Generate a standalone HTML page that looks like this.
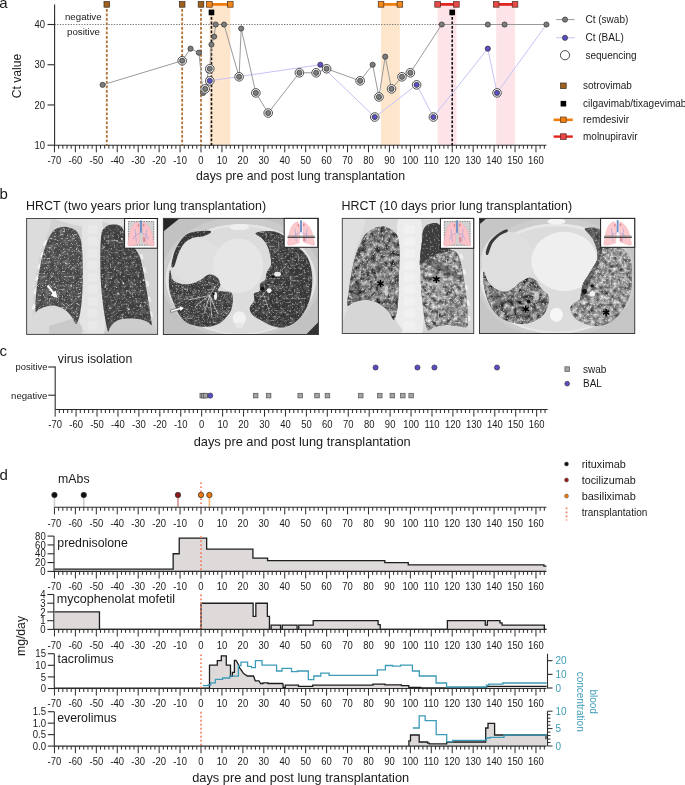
<!DOCTYPE html>
<html><head><meta charset="utf-8"><style>
html,body{margin:0;padding:0;background:#fff;}
svg{display:block;will-change:transform;font-family:"Liberation Sans", sans-serif;}
</style></head><body>
<svg width="685" height="785" viewBox="0 0 685 785">
<rect width="685" height="785" fill="#fff"/>
<text x="-0.8" y="7.9" font-size="15" text-anchor="start" fill="#1a1a1a" >a</text>
<rect x="209.37" y="4.4" width="20.94" height="140.8" fill="#fee6cd"/>
<rect x="381.04" y="4.4" width="18.84" height="140.8" fill="#fee6cd"/>
<rect x="437.57" y="4.4" width="18.84" height="140.8" fill="#fde4e8"/>
<rect x="496.18" y="4.4" width="18.84" height="140.8" fill="#fde4e8"/>
<line x1="54.45" y1="24.51" x2="546.43" y2="24.51" stroke="#777" stroke-width="1" stroke-dasharray="1.3 1.4"/>
<text x="83.3" y="19.8" font-size="9.7" text-anchor="middle" fill="#1a1a1a" >negative</text>
<text x="83.5" y="35.3" font-size="9.7" text-anchor="middle" fill="#1a1a1a" >positive</text>
<line x1="54.6" y1="4.4" x2="54.6" y2="145.7" stroke="#2b2b2b" stroke-width="1.1" />
<line x1="47.5" y1="145.2" x2="54.6" y2="145.2" stroke="#2b2b2b" stroke-width="1.1" />
<text transform="translate(45,148.8) scale(0.92,1)" font-size="10.3" text-anchor="end" fill="#1a1a1a">10</text>
<line x1="47.5" y1="104.97" x2="54.6" y2="104.97" stroke="#2b2b2b" stroke-width="1.1" />
<text transform="translate(45,108.57) scale(0.92,1)" font-size="10.3" text-anchor="end" fill="#1a1a1a">20</text>
<line x1="47.5" y1="64.74" x2="54.6" y2="64.74" stroke="#2b2b2b" stroke-width="1.1" />
<text transform="translate(45,68.34) scale(0.92,1)" font-size="10.3" text-anchor="end" fill="#1a1a1a">30</text>
<line x1="47.5" y1="24.51" x2="54.6" y2="24.51" stroke="#2b2b2b" stroke-width="1.1" />
<text transform="translate(45,28.11) scale(0.92,1)" font-size="10.3" text-anchor="end" fill="#1a1a1a">40</text>
<text transform="translate(21.3,76) rotate(-90)" font-size="12.2" text-anchor="middle" fill="#1a1a1a">Ct value</text>
<line x1="54.45" y1="145.2" x2="546.43" y2="145.2" stroke="#2b2b2b" stroke-width="1.1" />
<path d="M54.45 145.2v7.1M58.64 145.2v3.5M62.83 145.2v3.5M67.02 145.2v3.5M71.2 145.2v3.5M75.39 145.2v7.1M79.58 145.2v3.5M83.76 145.2v3.5M87.95 145.2v3.5M92.14 145.2v3.5M96.32 145.2v7.1M100.51 145.2v3.5M104.7 145.2v3.5M108.89 145.2v3.5M113.07 145.2v3.5M117.26 145.2v7.1M121.45 145.2v3.5M125.63 145.2v3.5M129.82 145.2v3.5M134.01 145.2v3.5M138.19 145.2v7.1M142.38 145.2v3.5M146.57 145.2v3.5M150.76 145.2v3.5M154.94 145.2v3.5M159.13 145.2v7.1M163.32 145.2v3.5M167.5 145.2v3.5M171.69 145.2v3.5M175.88 145.2v3.5M180.06 145.2v7.1M184.25 145.2v3.5M188.44 145.2v3.5M192.63 145.2v3.5M196.81 145.2v3.5M201 145.2v7.1M205.19 145.2v3.5M209.37 145.2v3.5M213.56 145.2v3.5M217.75 145.2v3.5M221.94 145.2v7.1M226.12 145.2v3.5M230.31 145.2v3.5M234.5 145.2v3.5M238.68 145.2v3.5M242.87 145.2v7.1M247.06 145.2v3.5M251.24 145.2v3.5M255.43 145.2v3.5M259.62 145.2v3.5M263.81 145.2v7.1M267.99 145.2v3.5M272.18 145.2v3.5M276.37 145.2v3.5M280.55 145.2v3.5M284.74 145.2v7.1M288.93 145.2v3.5M293.11 145.2v3.5M297.3 145.2v3.5M301.49 145.2v3.5M305.68 145.2v7.1M309.86 145.2v3.5M314.05 145.2v3.5M318.24 145.2v3.5M322.42 145.2v3.5M326.61 145.2v7.1M330.8 145.2v3.5M334.98 145.2v3.5M339.17 145.2v3.5M343.36 145.2v3.5M347.55 145.2v7.1M351.73 145.2v3.5M355.92 145.2v3.5M360.11 145.2v3.5M364.29 145.2v3.5M368.48 145.2v7.1M372.67 145.2v3.5M376.85 145.2v3.5M381.04 145.2v3.5M385.23 145.2v3.5M389.42 145.2v7.1M393.6 145.2v3.5M397.79 145.2v3.5M401.98 145.2v3.5M406.16 145.2v3.5M410.35 145.2v7.1M414.54 145.2v3.5M418.72 145.2v3.5M422.91 145.2v3.5M427.1 145.2v3.5M431.29 145.2v7.1M435.47 145.2v3.5M439.66 145.2v3.5M443.85 145.2v3.5M448.03 145.2v3.5M452.22 145.2v7.1M456.41 145.2v3.5M460.59 145.2v3.5M464.78 145.2v3.5M468.97 145.2v3.5M473.16 145.2v7.1M477.34 145.2v3.5M481.53 145.2v3.5M485.72 145.2v3.5M489.9 145.2v3.5M494.09 145.2v7.1M498.28 145.2v3.5M502.46 145.2v3.5M506.65 145.2v3.5M510.84 145.2v3.5M515.03 145.2v7.1M519.21 145.2v3.5M523.4 145.2v3.5M527.59 145.2v3.5M531.77 145.2v3.5M535.96 145.2v7.1M540.15 145.2v3.5M544.33 145.2v3.5" stroke="#2b2b2b" stroke-width="1" fill="none"/>
<text transform="translate(54.45,163.6) scale(0.92,1)" font-size="10.3" text-anchor="middle" fill="#1a1a1a">-70</text>
<text transform="translate(75.39,163.6) scale(0.92,1)" font-size="10.3" text-anchor="middle" fill="#1a1a1a">-60</text>
<text transform="translate(96.32,163.6) scale(0.92,1)" font-size="10.3" text-anchor="middle" fill="#1a1a1a">-50</text>
<text transform="translate(117.26,163.6) scale(0.92,1)" font-size="10.3" text-anchor="middle" fill="#1a1a1a">-40</text>
<text transform="translate(138.19,163.6) scale(0.92,1)" font-size="10.3" text-anchor="middle" fill="#1a1a1a">-30</text>
<text transform="translate(159.13,163.6) scale(0.92,1)" font-size="10.3" text-anchor="middle" fill="#1a1a1a">-20</text>
<text transform="translate(180.06,163.6) scale(0.92,1)" font-size="10.3" text-anchor="middle" fill="#1a1a1a">-10</text>
<text transform="translate(201,163.6) scale(0.92,1)" font-size="10.3" text-anchor="middle" fill="#1a1a1a">0</text>
<text transform="translate(221.94,163.6) scale(0.92,1)" font-size="10.3" text-anchor="middle" fill="#1a1a1a">10</text>
<text transform="translate(242.87,163.6) scale(0.92,1)" font-size="10.3" text-anchor="middle" fill="#1a1a1a">20</text>
<text transform="translate(263.81,163.6) scale(0.92,1)" font-size="10.3" text-anchor="middle" fill="#1a1a1a">30</text>
<text transform="translate(284.74,163.6) scale(0.92,1)" font-size="10.3" text-anchor="middle" fill="#1a1a1a">40</text>
<text transform="translate(305.68,163.6) scale(0.92,1)" font-size="10.3" text-anchor="middle" fill="#1a1a1a">50</text>
<text transform="translate(326.61,163.6) scale(0.92,1)" font-size="10.3" text-anchor="middle" fill="#1a1a1a">60</text>
<text transform="translate(347.55,163.6) scale(0.92,1)" font-size="10.3" text-anchor="middle" fill="#1a1a1a">70</text>
<text transform="translate(368.48,163.6) scale(0.92,1)" font-size="10.3" text-anchor="middle" fill="#1a1a1a">80</text>
<text transform="translate(389.42,163.6) scale(0.92,1)" font-size="10.3" text-anchor="middle" fill="#1a1a1a">90</text>
<text transform="translate(410.35,163.6) scale(0.92,1)" font-size="10.3" text-anchor="middle" fill="#1a1a1a">100</text>
<text transform="translate(431.29,163.6) scale(0.92,1)" font-size="10.3" text-anchor="middle" fill="#1a1a1a">110</text>
<text transform="translate(452.22,163.6) scale(0.92,1)" font-size="10.3" text-anchor="middle" fill="#1a1a1a">120</text>
<text transform="translate(473.16,163.6) scale(0.92,1)" font-size="10.3" text-anchor="middle" fill="#1a1a1a">130</text>
<text transform="translate(494.09,163.6) scale(0.92,1)" font-size="10.3" text-anchor="middle" fill="#1a1a1a">140</text>
<text transform="translate(515.03,163.6) scale(0.92,1)" font-size="10.3" text-anchor="middle" fill="#1a1a1a">150</text>
<text transform="translate(535.96,163.6) scale(0.92,1)" font-size="10.3" text-anchor="middle" fill="#1a1a1a">160</text>
<text x="300.5" y="179.9" font-size="12.33" text-anchor="middle" fill="#1a1a1a" >days pre and post lung transplantation</text>
<line x1="106.79" y1="4.4" x2="106.79" y2="145.2" stroke="#b07236" stroke-width="1.8" stroke-dasharray="2.9 1.6"/>
<line x1="182.16" y1="4.4" x2="182.16" y2="145.2" stroke="#b07236" stroke-width="1.8" stroke-dasharray="2.9 1.6"/>
<line x1="201" y1="4.4" x2="201" y2="145.2" stroke="#b07236" stroke-width="1.8" stroke-dasharray="2.9 1.6"/>
<line x1="211.47" y1="12.4" x2="211.47" y2="145.2" stroke="#111" stroke-width="1.6" stroke-dasharray="2.8 1.7"/>
<line x1="452.22" y1="12.4" x2="452.22" y2="145.2" stroke="#111" stroke-width="1.6" stroke-dasharray="2.8 1.7"/>
<line x1="209.37" y1="4.4" x2="230.31" y2="4.4" stroke="#f07d10" stroke-width="2.8" />
<rect x="206.57" y="1.6" width="5.6" height="5.6" fill="#f5861a" stroke="#4a3020" stroke-width="0.7"/>
<rect x="227.51" y="1.6" width="5.6" height="5.6" fill="#f5861a" stroke="#4a3020" stroke-width="0.7"/>
<line x1="381.04" y1="4.4" x2="399.88" y2="4.4" stroke="#f07d10" stroke-width="2.8" />
<rect x="378.24" y="1.6" width="5.6" height="5.6" fill="#f5861a" stroke="#4a3020" stroke-width="0.7"/>
<rect x="397.08" y="1.6" width="5.6" height="5.6" fill="#f5861a" stroke="#4a3020" stroke-width="0.7"/>
<line x1="437.57" y1="4.4" x2="456.41" y2="4.4" stroke="#e0261e" stroke-width="2.8" />
<rect x="434.77" y="1.6" width="5.6" height="5.6" fill="#e84848" stroke="#4a3020" stroke-width="0.7"/>
<rect x="453.61" y="1.6" width="5.6" height="5.6" fill="#e84848" stroke="#4a3020" stroke-width="0.7"/>
<line x1="496.18" y1="4.4" x2="515.03" y2="4.4" stroke="#e0261e" stroke-width="2.8" />
<rect x="493.38" y="1.6" width="5.6" height="5.6" fill="#e84848" stroke="#4a3020" stroke-width="0.7"/>
<rect x="512.23" y="1.6" width="5.6" height="5.6" fill="#e84848" stroke="#4a3020" stroke-width="0.7"/>
<rect x="103.99" y="1.6" width="5.6" height="5.6" fill="#a0611f" stroke="#3a2a1a" stroke-width="0.7"/>
<rect x="179.36" y="1.6" width="5.6" height="5.6" fill="#a0611f" stroke="#3a2a1a" stroke-width="0.7"/>
<rect x="198.2" y="1.6" width="5.6" height="5.6" fill="#a0611f" stroke="#3a2a1a" stroke-width="0.7"/>
<rect x="208.67" y="9.6" width="5.6" height="5.6" fill="#000"/>
<rect x="449.42" y="9.6" width="5.6" height="5.6" fill="#000"/>
<polyline points="209.79,80.83 320.33,64.74 374.76,117.04 416.63,84.85 433.38,117.04 487.81,48.65 497.02,92.9 546.43,24.51" fill="none" stroke="#c6c2f6" stroke-width="1"/>
<polyline points="102.61,84.85 182.16,60.72 190.53,48.65 198.91,52.67 203.09,92.9 205.19,88.88 208.54,70.37 209.79,68.76 211.47,44.62 214.19,36.58 215.65,24.51 224.03,24.51 239.1,76.81 241.2,28.53 255.85,92.9 268.2,113.02 299.39,72.79 316.14,72.79 326.61,68.76 360.11,80.83 372.67,64.74 378.95,96.92 385.23,56.69 391.51,88.88 401.98,76.81 410.35,72.79 441.75,24.51 487.81,24.51 504.56,24.51 546.43,24.51" fill="none" stroke="#9a9a9a" stroke-width="1"/>
<circle cx="102.61" cy="84.85" r="2.6" fill="#7c7c7c" stroke="#333" stroke-width="0.7"/>
<circle cx="182.16" cy="60.72" r="4.3" fill="#fff" stroke="#3a3a3a" stroke-width="0.9"/>
<circle cx="182.16" cy="60.72" r="2.6" fill="#7c7c7c" stroke="#333" stroke-width="0.7"/>
<circle cx="190.53" cy="48.65" r="2.6" fill="#7c7c7c" stroke="#333" stroke-width="0.7"/>
<circle cx="198.91" cy="52.67" r="2.6" fill="#7c7c7c" stroke="#333" stroke-width="0.7"/>
<circle cx="203.09" cy="92.9" r="2.6" fill="#7c7c7c" stroke="#333" stroke-width="0.7"/>
<circle cx="205.19" cy="88.88" r="4.3" fill="#fff" stroke="#3a3a3a" stroke-width="0.9"/>
<circle cx="205.19" cy="88.88" r="2.6" fill="#7c7c7c" stroke="#333" stroke-width="0.7"/>
<circle cx="208.54" cy="70.37" r="2.6" fill="#7c7c7c" stroke="#333" stroke-width="0.7"/>
<circle cx="209.79" cy="68.76" r="4.3" fill="#fff" stroke="#3a3a3a" stroke-width="0.9"/>
<circle cx="209.79" cy="68.76" r="2.6" fill="#7c7c7c" stroke="#333" stroke-width="0.7"/>
<circle cx="211.47" cy="44.62" r="2.6" fill="#7c7c7c" stroke="#333" stroke-width="0.7"/>
<circle cx="214.19" cy="36.58" r="2.6" fill="#7c7c7c" stroke="#333" stroke-width="0.7"/>
<circle cx="215.65" cy="24.51" r="2.6" fill="#7c7c7c" stroke="#333" stroke-width="0.7"/>
<circle cx="224.03" cy="24.51" r="2.6" fill="#7c7c7c" stroke="#333" stroke-width="0.7"/>
<circle cx="239.1" cy="76.81" r="4.3" fill="#fff" stroke="#3a3a3a" stroke-width="0.9"/>
<circle cx="239.1" cy="76.81" r="2.6" fill="#7c7c7c" stroke="#333" stroke-width="0.7"/>
<circle cx="241.2" cy="28.53" r="2.6" fill="#7c7c7c" stroke="#333" stroke-width="0.7"/>
<circle cx="255.85" cy="92.9" r="4.3" fill="#fff" stroke="#3a3a3a" stroke-width="0.9"/>
<circle cx="255.85" cy="92.9" r="2.6" fill="#7c7c7c" stroke="#333" stroke-width="0.7"/>
<circle cx="268.2" cy="113.02" r="4.3" fill="#fff" stroke="#3a3a3a" stroke-width="0.9"/>
<circle cx="268.2" cy="113.02" r="2.6" fill="#7c7c7c" stroke="#333" stroke-width="0.7"/>
<circle cx="299.39" cy="72.79" r="4.3" fill="#fff" stroke="#3a3a3a" stroke-width="0.9"/>
<circle cx="299.39" cy="72.79" r="2.6" fill="#7c7c7c" stroke="#333" stroke-width="0.7"/>
<circle cx="316.14" cy="72.79" r="4.3" fill="#fff" stroke="#3a3a3a" stroke-width="0.9"/>
<circle cx="316.14" cy="72.79" r="2.6" fill="#7c7c7c" stroke="#333" stroke-width="0.7"/>
<circle cx="326.61" cy="68.76" r="4.3" fill="#fff" stroke="#3a3a3a" stroke-width="0.9"/>
<circle cx="326.61" cy="68.76" r="2.6" fill="#7c7c7c" stroke="#333" stroke-width="0.7"/>
<circle cx="360.11" cy="80.83" r="4.3" fill="#fff" stroke="#3a3a3a" stroke-width="0.9"/>
<circle cx="360.11" cy="80.83" r="2.6" fill="#7c7c7c" stroke="#333" stroke-width="0.7"/>
<circle cx="372.67" cy="64.74" r="2.6" fill="#7c7c7c" stroke="#333" stroke-width="0.7"/>
<circle cx="378.95" cy="96.92" r="4.3" fill="#fff" stroke="#3a3a3a" stroke-width="0.9"/>
<circle cx="378.95" cy="96.92" r="2.6" fill="#7c7c7c" stroke="#333" stroke-width="0.7"/>
<circle cx="385.23" cy="56.69" r="2.6" fill="#7c7c7c" stroke="#333" stroke-width="0.7"/>
<circle cx="391.51" cy="88.88" r="4.3" fill="#fff" stroke="#3a3a3a" stroke-width="0.9"/>
<circle cx="391.51" cy="88.88" r="2.6" fill="#7c7c7c" stroke="#333" stroke-width="0.7"/>
<circle cx="401.98" cy="76.81" r="4.3" fill="#fff" stroke="#3a3a3a" stroke-width="0.9"/>
<circle cx="401.98" cy="76.81" r="2.6" fill="#7c7c7c" stroke="#333" stroke-width="0.7"/>
<circle cx="410.35" cy="72.79" r="4.3" fill="#fff" stroke="#3a3a3a" stroke-width="0.9"/>
<circle cx="410.35" cy="72.79" r="2.6" fill="#7c7c7c" stroke="#333" stroke-width="0.7"/>
<circle cx="441.75" cy="24.51" r="2.6" fill="#7c7c7c" stroke="#333" stroke-width="0.7"/>
<circle cx="487.81" cy="24.51" r="2.6" fill="#7c7c7c" stroke="#333" stroke-width="0.7"/>
<circle cx="504.56" cy="24.51" r="2.6" fill="#7c7c7c" stroke="#333" stroke-width="0.7"/>
<circle cx="546.43" cy="24.51" r="2.6" fill="#7c7c7c" stroke="#333" stroke-width="0.7"/>
<circle cx="209.79" cy="80.83" r="4.3" fill="#fff" stroke="#3a3a3a" stroke-width="0.9"/>
<circle cx="209.79" cy="80.83" r="2.6" fill="#5a4fc2" stroke="#333" stroke-width="0.7"/>
<circle cx="320.33" cy="64.74" r="2.6" fill="#5a4fc2" stroke="#333" stroke-width="0.7"/>
<circle cx="374.76" cy="117.04" r="4.3" fill="#fff" stroke="#3a3a3a" stroke-width="0.9"/>
<circle cx="374.76" cy="117.04" r="2.6" fill="#5a4fc2" stroke="#333" stroke-width="0.7"/>
<circle cx="416.63" cy="84.85" r="4.3" fill="#fff" stroke="#3a3a3a" stroke-width="0.9"/>
<circle cx="416.63" cy="84.85" r="2.6" fill="#5a4fc2" stroke="#333" stroke-width="0.7"/>
<circle cx="433.38" cy="117.04" r="4.3" fill="#fff" stroke="#3a3a3a" stroke-width="0.9"/>
<circle cx="433.38" cy="117.04" r="2.6" fill="#5a4fc2" stroke="#333" stroke-width="0.7"/>
<circle cx="487.81" cy="48.65" r="2.6" fill="#5a4fc2" stroke="#333" stroke-width="0.7"/>
<circle cx="497.02" cy="92.9" r="4.3" fill="#fff" stroke="#3a3a3a" stroke-width="0.9"/>
<circle cx="497.02" cy="92.9" r="2.6" fill="#5a4fc2" stroke="#333" stroke-width="0.7"/>
<line x1="556.2" y1="19.6" x2="574.6" y2="19.6" stroke="#9a9a9a" stroke-width="1" />
<circle cx="565" cy="19.6" r="2.6" fill="#7c7c7c" stroke="#333" stroke-width="0.7"/>
<line x1="556.2" y1="37.8" x2="574.6" y2="37.8" stroke="#c6c2f6" stroke-width="1" />
<circle cx="565" cy="37.8" r="2.6" fill="#5a4fc2" stroke="#333" stroke-width="0.7"/>
<circle cx="565" cy="55.2" r="4.6" fill="#fff" stroke="#3a3a3a" stroke-width="0.9"/>
<text x="585.5" y="23.2" font-size="10" text-anchor="start" fill="#1a1a1a" >Ct (swab)</text>
<text x="585.5" y="41.4" font-size="10" text-anchor="start" fill="#1a1a1a" >Ct (BAL)</text>
<text x="585.5" y="58.8" font-size="10" text-anchor="start" fill="#1a1a1a" >sequencing</text>
<rect x="560.6" y="83" width="5.6" height="5.6" fill="#a0611f" stroke="#3a2a1a" stroke-width="0.7"/>
<rect x="560.6" y="100.9" width="5.6" height="5.6" fill="#000"/>
<line x1="553.6" y1="119.8" x2="572.8" y2="119.8" stroke="#f07d10" stroke-width="2.6" />
<rect x="560.6" y="117" width="5.6" height="5.6" fill="#f07d10" stroke="#5a3a1a" stroke-width="0.7"/>
<line x1="553.6" y1="136.6" x2="572.8" y2="136.6" stroke="#e0261e" stroke-width="2.4" />
<rect x="560.6" y="133.8" width="5.6" height="5.6" fill="#e84848" stroke="#5a2020" stroke-width="0.7"/>
<text x="583" y="89.3" font-size="10" text-anchor="start" fill="#1a1a1a" >sotrovimab</text>
<text x="583" y="107.2" font-size="10" text-anchor="start" fill="#1a1a1a" >cilgavimab/tixagevimab</text>
<text x="583" y="123.3" font-size="10" text-anchor="start" fill="#1a1a1a" >remdesivir</text>
<text x="583" y="140.1" font-size="10" text-anchor="start" fill="#1a1a1a" >molnupiravir</text>
<text x="-0.5" y="198.6" font-size="15" text-anchor="start" fill="#1a1a1a" >b</text>
<text x="25.9" y="209.8" font-size="12.47" text-anchor="start" fill="#1a1a1a" >HRCT (two years prior lung transplantation)</text>
<text x="341.6" y="209.7" font-size="12.47" text-anchor="start" fill="#1a1a1a" >HRCT (10 days prior lung transplantation)</text>
<defs>
<filter id="spk" x="0" y="0" width="1" height="1" color-interpolation-filters="sRGB">
  <feTurbulence type="fractalNoise" baseFrequency="0.55" numOctaves="2" seed="2"/>
  <feColorMatrix type="matrix" values="0 0 0 0 1  0 0 0 0 1  0 0 0 0 1  7 0 0 0 -4.1"/>
</filter>
<filter id="spk2" x="0" y="0" width="1" height="1" color-interpolation-filters="sRGB">
  <feTurbulence type="fractalNoise" baseFrequency="0.5" numOctaves="2" seed="11"/>
  <feColorMatrix type="matrix" values="0 0 0 0 1  0 0 0 0 1  0 0 0 0 1  7 0 0 0 -4.0"/>
</filter>
<filter id="ret" x="0" y="0" width="1" height="1" color-interpolation-filters="sRGB">
  <feTurbulence type="turbulence" baseFrequency="0.22" numOctaves="2" seed="5"/>
  <feColorMatrix type="matrix" values="0 0 0 0 1  0 0 0 0 1  0 0 0 0 1  -6 0 0 0 1.0"/>
</filter>
<filter id="blot" x="0" y="0" width="1" height="1" color-interpolation-filters="sRGB">
  <feTurbulence type="fractalNoise" baseFrequency="0.21" numOctaves="3" seed="9"/>
  <feColorMatrix type="matrix" values="1.3 0 0 0 -0.17  1.3 0 0 0 -0.17  1.3 0 0 0 -0.17  0 0 0 0 1"/>
</filter>
<filter id="blot2" x="0" y="0" width="1" height="1" color-interpolation-filters="sRGB">
  <feTurbulence type="fractalNoise" baseFrequency="0.22" numOctaves="3" seed="21"/>
  <feColorMatrix type="matrix" values="1.3 0 0 0 -0.08  1.3 0 0 0 -0.08  1.3 0 0 0 -0.08  0 0 0 0 1"/>
</filter>
<filter id="mot" x="0" y="0" width="1" height="1" color-interpolation-filters="sRGB">
  <feTurbulence type="fractalNoise" baseFrequency="0.2" numOctaves="2" seed="13"/>
  <feColorMatrix type="matrix" values="0 0 0 0 0.55  0 0 0 0 0.55  0 0 0 0 0.55  3 0 0 0 -1.3"/>
</filter>
<filter id="drk" x="0" y="0" width="1" height="1" color-interpolation-filters="sRGB">
  <feTurbulence type="fractalNoise" baseFrequency="0.3" numOctaves="2" seed="4"/>
  <feColorMatrix type="matrix" values="0 0 0 0 0  0 0 0 0 0  0 0 0 0 0  -4 0 0 0 1.75"/>
</filter>
</defs><clipPath id="c1"><rect x="26.6" y="218.5" width="131" height="115.9"/></clipPath><g clip-path="url(#c1)"><rect x="26.6" y="218.5" width="131" height="115.9" fill="#d3d3d3"/><path d="M26,218 C30.17,198.73 48.8,211.58 51.05,218 C53.3,224.42 42.38,243.69 39.49,256.54 C36.6,269.38 34.99,282.23 33.71,295.07 C32.42,307.92 33.06,327.18 31.78,333.61 C30.5,340.03 26.96,352.87 26,333.61 C25.04,314.34 21.83,237.27 26,218Z" fill="#dcdcdc"/><ellipse cx="45.27" cy="243.05" rx="1.5" ry="3.3" fill="#f2f2f2" transform="rotate(25 45.27 243.05)"/><ellipse cx="42.38" cy="254.61" rx="1.5" ry="3.3" fill="#f2f2f2" transform="rotate(25 42.38 254.61)"/><ellipse cx="39.49" cy="266.17" rx="1.5" ry="3.3" fill="#f2f2f2" transform="rotate(25 39.49 266.17)"/><ellipse cx="37.56" cy="277.73" rx="1.5" ry="3.3" fill="#f2f2f2" transform="rotate(25 37.56 277.73)"/><ellipse cx="35.63" cy="291.22" rx="1.5" ry="3.3" fill="#f2f2f2" transform="rotate(25 35.63 291.22)"/><ellipse cx="34.09" cy="306.63" rx="1.5" ry="3.3" fill="#f2f2f2" transform="rotate(25 34.09 306.63)"/><ellipse cx="33.71" cy="322.05" rx="1.5" ry="3.3" fill="#f2f2f2" transform="rotate(25 33.71 322.05)"/><path d="M83.8,218 C86.95,211.58 98,211.58 101.14,218 C104.29,224.42 102.2,237.27 102.69,256.54 C103.17,275.8 107.66,320.76 104.03,333.61 C100.41,346.45 84.54,346.45 80.91,333.61 C77.28,320.76 81.78,275.8 82.26,256.54 C82.74,237.27 80.66,224.42 83.8,218Z" fill="#e4e4e4"/><rect x="87.47" y="225.06" width="10" height="9" rx="2.5" fill="#e9e9e9"/><rect x="87.47" y="237.01" width="10" height="9" rx="2.5" fill="#e9e9e9"/><rect x="87.47" y="248.95" width="10" height="9" rx="2.5" fill="#e9e9e9"/><rect x="87.47" y="260.9" width="10" height="9" rx="2.5" fill="#e9e9e9"/><rect x="87.47" y="272.84" width="10" height="9" rx="2.5" fill="#e9e9e9"/><rect x="87.47" y="284.79" width="10" height="9" rx="2.5" fill="#e9e9e9"/><rect x="87.47" y="296.74" width="10" height="9" rx="2.5" fill="#e9e9e9"/><rect x="87.47" y="308.68" width="10" height="9" rx="2.5" fill="#e9e9e9"/><rect x="87.47" y="320.63" width="10" height="9" rx="2.5" fill="#e9e9e9"/><path d="M54.9,218 C57.15,217.04 78.99,216.72 83.8,218 C88.62,219.28 86.05,224.74 83.8,225.71 C81.56,226.67 75.13,225.06 70.32,223.78 C65.5,222.5 52.65,218.96 54.9,218Z" fill="#e2e2e2"/><path d="M101.14,218 C105.32,217.04 129.73,216.72 133.9,218 C138.07,219.28 130.37,224.74 126.19,225.71 C122.02,226.67 113.03,225.06 108.85,223.78 C104.68,222.5 96.97,218.96 101.14,218Z" fill="#e2e2e2"/><ellipse cx="141.61" cy="256.54" rx="1.4" ry="3.1" fill="#ececec" transform="rotate(-20 141.61 256.54)"/><ellipse cx="144.5" cy="270.02" rx="1.4" ry="3.1" fill="#ececec" transform="rotate(-20 144.5 270.02)"/><ellipse cx="147.39" cy="283.51" rx="1.4" ry="3.1" fill="#ececec" transform="rotate(-20 147.39 283.51)"/><ellipse cx="149.31" cy="298.92" rx="1.4" ry="3.1" fill="#ececec" transform="rotate(-20 149.31 298.92)"/><ellipse cx="151.24" cy="314.34" rx="1.4" ry="3.1" fill="#ececec" transform="rotate(-20 151.24 314.34)"/><path d="M29.85,333.61 C21.5,331.04 29.85,322.37 31.78,318.19 C33.71,314.02 36.92,310.65 41.41,308.56 C45.91,306.47 53.62,304.71 58.76,305.67 C63.89,306.63 68.71,310.97 72.24,314.34 C75.78,317.71 78.34,322.69 79.95,325.9 C81.56,329.11 90.23,332.32 81.88,333.61 C73.53,334.89 38.2,336.18 29.85,333.61Z" fill="#dadada"/><polygon points="49.12,333.61 49.12,325.9 74.17,318.19 81.88,325.9 81.88,333.61" fill="#c9c9c9"/><path d="M106.92,335.53 C99.22,333.93 108.21,328.63 110.78,325.9 C113.35,323.17 117.2,320.28 122.34,319.16 C127.48,318.03 136.47,318.03 141.61,319.16 C146.75,320.28 150.6,323.17 153.17,325.9 C155.74,328.63 164.73,333.93 157.02,335.53 C149.31,337.14 114.63,337.14 106.92,335.53Z" fill="#cdcdcd"/><clipPath id="lc1"><path d="M64.54,226.67 C67.75,226.67 71.76,228.12 74.17,229.56 C76.58,231.01 77.7,232.45 78.99,235.34 C80.27,238.23 81.23,240.16 81.88,246.9 C82.52,253.65 82.84,267.13 82.84,275.8 C82.84,284.47 82.36,292.5 81.88,298.92 C81.39,305.35 80.75,310.32 79.95,314.34 C79.15,318.35 77.86,321.56 77.06,323.01 C76.26,324.45 76.1,324.13 75.13,323.01 C74.17,321.89 73.05,318.51 71.28,316.27 C69.51,314.02 67.27,311.29 64.54,309.52 C61.81,307.76 58.11,306.15 54.9,305.67 C51.69,305.19 48,305.99 45.27,306.63 C42.54,307.27 40.13,308.72 38.52,309.52 C36.92,310.32 36.05,313.86 35.63,311.45 C35.22,309.04 35.54,301.01 36.02,295.07 C36.5,289.13 37.46,282.23 38.52,275.8 C39.58,269.38 40.77,262.64 42.38,256.54 C43.98,250.43 46.07,243.69 48.16,239.19 C50.25,234.7 52.17,231.65 54.9,229.56 C57.63,227.47 61.32,226.67 64.54,226.67Z"/></clipPath><path d="M64.54,226.67 C67.75,226.67 71.76,228.12 74.17,229.56 C76.58,231.01 77.7,232.45 78.99,235.34 C80.27,238.23 81.23,240.16 81.88,246.9 C82.52,253.65 82.84,267.13 82.84,275.8 C82.84,284.47 82.36,292.5 81.88,298.92 C81.39,305.35 80.75,310.32 79.95,314.34 C79.15,318.35 77.86,321.56 77.06,323.01 C76.26,324.45 76.1,324.13 75.13,323.01 C74.17,321.89 73.05,318.51 71.28,316.27 C69.51,314.02 67.27,311.29 64.54,309.52 C61.81,307.76 58.11,306.15 54.9,305.67 C51.69,305.19 48,305.99 45.27,306.63 C42.54,307.27 40.13,308.72 38.52,309.52 C36.92,310.32 36.05,313.86 35.63,311.45 C35.22,309.04 35.54,301.01 36.02,295.07 C36.5,289.13 37.46,282.23 38.52,275.8 C39.58,269.38 40.77,262.64 42.38,256.54 C43.98,250.43 46.07,243.69 48.16,239.19 C50.25,234.7 52.17,231.65 54.9,229.56 C57.63,227.47 61.32,226.67 64.54,226.67Z" fill="#474747"/><g clip-path="url(#lc1)"><rect x="33.63" y="224.67" width="51.21" height="100.34" filter="url(#mot)" opacity="0.5"/><rect x="33.63" y="224.67" width="51.21" height="100.34" filter="url(#spk)" opacity="0.5"/><rect x="33.63" y="224.67" width="51.21" height="100.34" filter="url(#ret)" opacity="0.2"/></g><clipPath id="lc2"><path d="M110.78,224.74 C113.35,224.49 117.84,224.33 120.41,226.09 C122.98,227.86 123.94,231.87 126.19,235.34 C128.44,238.81 131.65,243.37 133.9,246.9 C136.15,250.43 138.24,253 139.68,256.54 C141.13,260.07 141.61,263.6 142.57,268.1 C143.53,272.59 144.5,278.05 145.46,283.51 C146.42,288.97 147.45,295.07 148.35,300.85 C149.25,306.63 150.31,314.15 150.86,318.19 C151.4,322.24 152.14,324.49 151.63,325.13 C151.11,325.77 149.7,323.01 147.77,322.05 C145.85,321.08 143.02,319.93 140.07,319.35 C137.11,318.77 133.39,318.55 130.05,318.58 C126.71,318.61 122.76,318.8 120.03,319.54 C117.3,320.28 115.37,321.63 113.67,323.01 C111.97,324.39 110.68,326.38 109.82,327.83 C108.95,329.27 109.01,332 108.47,331.68 C107.92,331.36 107.44,330.4 106.54,325.9 C105.64,321.4 104.03,312.41 103.07,304.71 C102.11,297 101.21,288.33 100.76,279.66 C100.31,270.99 100.25,260.39 100.37,252.68 C100.5,244.97 100.76,237.59 101.53,233.41 C102.3,229.24 103.46,229.08 105,227.63 C106.54,226.19 108.21,225 110.78,224.74Z"/></clipPath><path d="M110.78,224.74 C113.35,224.49 117.84,224.33 120.41,226.09 C122.98,227.86 123.94,231.87 126.19,235.34 C128.44,238.81 131.65,243.37 133.9,246.9 C136.15,250.43 138.24,253 139.68,256.54 C141.13,260.07 141.61,263.6 142.57,268.1 C143.53,272.59 144.5,278.05 145.46,283.51 C146.42,288.97 147.45,295.07 148.35,300.85 C149.25,306.63 150.31,314.15 150.86,318.19 C151.4,322.24 152.14,324.49 151.63,325.13 C151.11,325.77 149.7,323.01 147.77,322.05 C145.85,321.08 143.02,319.93 140.07,319.35 C137.11,318.77 133.39,318.55 130.05,318.58 C126.71,318.61 122.76,318.8 120.03,319.54 C117.3,320.28 115.37,321.63 113.67,323.01 C111.97,324.39 110.68,326.38 109.82,327.83 C108.95,329.27 109.01,332 108.47,331.68 C107.92,331.36 107.44,330.4 106.54,325.9 C105.64,321.4 104.03,312.41 103.07,304.71 C102.11,297 101.21,288.33 100.76,279.66 C100.31,270.99 100.25,260.39 100.37,252.68 C100.5,244.97 100.76,237.59 101.53,233.41 C102.3,229.24 103.46,229.08 105,227.63 C106.54,226.19 108.21,225 110.78,224.74Z" fill="#3d3d3d"/><g clip-path="url(#lc2)"><rect x="98.37" y="222.74" width="55.25" height="110.94" filter="url(#mot)" opacity="0.4"/><rect x="98.37" y="222.74" width="55.25" height="110.94" filter="url(#spk2)" opacity="0.32"/><rect x="98.37" y="222.74" width="55.25" height="110.94" filter="url(#ret)" opacity="0.15"/></g><circle cx="116.97" cy="240.88" r="0.83" fill="#d8d8d8" opacity="0.95"/><circle cx="105.2" cy="287.06" r="0.95" fill="#d8d8d8" opacity="0.71"/><circle cx="122.6" cy="232.21" r="0.55" fill="#ececec" opacity="0.72"/><circle cx="132.69" cy="287.09" r="0.53" fill="#bdbdbd" opacity="0.82"/><circle cx="107.77" cy="237.34" r="0.65" fill="#bdbdbd" opacity="0.75"/><circle cx="130.18" cy="293.07" r="0.69" fill="#bdbdbd" opacity="0.91"/><circle cx="129.3" cy="290.94" r="0.75" fill="#bdbdbd" opacity="0.83"/><circle cx="116.47" cy="287.36" r="0.73" fill="#ececec" opacity="0.77"/><circle cx="109.59" cy="308.14" r="0.54" fill="#ececec" opacity="0.86"/><circle cx="145.23" cy="302.75" r="0.64" fill="#d8d8d8" opacity="0.74"/><circle cx="121.8" cy="305.71" r="0.58" fill="#ececec" opacity="0.83"/><circle cx="128.98" cy="309.13" r="0.91" fill="#ececec" opacity="0.91"/><circle cx="130.84" cy="286.76" r="0.73" fill="#d8d8d8" opacity="0.98"/><circle cx="124.67" cy="295.77" r="0.53" fill="#bdbdbd" opacity="0.79"/><circle cx="129.99" cy="297.59" r="0.72" fill="#bdbdbd" opacity="0.82"/><circle cx="124.04" cy="242.71" r="0.56" fill="#d8d8d8" opacity="0.77"/><circle cx="115.11" cy="303.7" r="0.7" fill="#ececec" opacity="0.72"/><circle cx="123.4" cy="283.5" r="0.94" fill="#ececec" opacity="0.96"/><circle cx="114.64" cy="269.15" r="0.68" fill="#ececec" opacity="0.99"/><circle cx="108.11" cy="243.59" r="0.62" fill="#d8d8d8" opacity="0.7"/><circle cx="114.82" cy="240.32" r="0.77" fill="#bdbdbd" opacity="0.87"/><circle cx="126.79" cy="290.79" r="0.84" fill="#d8d8d8" opacity="0.84"/><circle cx="135.25" cy="284.55" r="0.7" fill="#ececec" opacity="0.73"/><circle cx="103.83" cy="247.07" r="0.58" fill="#ececec" opacity="0.88"/><circle cx="105.62" cy="285.35" r="0.77" fill="#ececec" opacity="0.88"/><circle cx="103.98" cy="246.98" r="0.69" fill="#bdbdbd" opacity="0.78"/><circle cx="118.18" cy="263.69" r="0.56" fill="#ececec" opacity="1"/><circle cx="124.26" cy="276.48" r="0.54" fill="#d8d8d8" opacity="0.92"/><circle cx="138.32" cy="275.93" r="0.85" fill="#bdbdbd" opacity="0.71"/><circle cx="107.89" cy="282.83" r="0.51" fill="#bdbdbd" opacity="0.79"/><circle cx="143.71" cy="280.18" r="0.95" fill="#ececec" opacity="0.93"/><circle cx="127.67" cy="308.05" r="0.66" fill="#d8d8d8" opacity="0.88"/><circle cx="140.78" cy="305.84" r="0.6" fill="#d8d8d8" opacity="0.95"/><circle cx="126.9" cy="262.77" r="0.51" fill="#d8d8d8" opacity="0.94"/><circle cx="124.58" cy="245.45" r="0.8" fill="#ececec" opacity="0.83"/><circle cx="111.67" cy="249" r="0.6" fill="#d8d8d8" opacity="0.84"/><circle cx="118" cy="293.52" r="0.92" fill="#d8d8d8" opacity="0.97"/><circle cx="140.47" cy="304.96" r="0.74" fill="#d8d8d8" opacity="0.83"/><circle cx="124.11" cy="304.24" r="0.54" fill="#d8d8d8" opacity="0.75"/><circle cx="106.88" cy="240.91" r="0.95" fill="#bdbdbd" opacity="0.74"/><circle cx="134.06" cy="262.22" r="0.77" fill="#d8d8d8" opacity="0.71"/><circle cx="141.34" cy="302.42" r="0.55" fill="#bdbdbd" opacity="0.98"/><circle cx="122.61" cy="317.96" r="0.91" fill="#d8d8d8" opacity="0.71"/><circle cx="111.28" cy="278.34" r="0.88" fill="#ececec" opacity="0.78"/><circle cx="121.85" cy="238.76" r="0.96" fill="#ececec" opacity="0.97"/><line x1="47.5" y1="285.5" x2="54.8" y2="294.5" stroke="#fff" stroke-width="2"/><polygon points="57.5,298 50.5,295.2 55.6,290.4" fill="#fff"/></g><rect x="26.6" y="218.5" width="131" height="115.9" fill="none" stroke="#4a4a4a" stroke-width="1"/><rect x="124.6" y="218.5" width="32.7" height="29.7" fill="#fff" stroke="#1e1e1e" stroke-width="1"/><rect x="128.46" y="221.47" width="25.34" height="23.76" fill="#d2d2d2" stroke="#444" stroke-width="0.6" stroke-dasharray="1.5 1"/><path d="M137.19,222.06 C138.12,221.82 138.25,222.66 138.66,223.55 C139.07,224.44 139.48,225.53 139.64,227.41 C139.81,229.29 139.72,232.46 139.64,234.83 C139.56,237.21 139.37,240.18 139.15,241.67 C138.93,243.15 140.11,243.05 138.33,243.75 C136.56,244.44 130.1,246.81 128.52,245.82 C126.94,244.83 128.52,240.38 128.85,237.81 C129.18,235.23 129.78,232.51 130.49,230.38 C131.19,228.25 131.98,226.42 133.1,225.03 C134.22,223.65 136.26,222.31 137.19,222.06Z" fill="#fbc3c8" stroke="#f0a3ab" stroke-width="0.4"/><path d="M143.08,222.06 C143.48,221.37 144.3,222.51 145.2,223.25 C146.1,223.99 147.44,225.08 148.47,226.52 C149.51,227.95 150.68,229.84 151.41,231.87 C152.15,233.89 152.48,236.37 152.89,238.7 C153.29,241.02 154.98,244.98 153.87,245.82 C152.75,246.67 147.95,244.34 146.18,243.75 C144.41,243.15 143.76,243.99 143.24,242.26 C142.72,240.53 143.16,235.82 143.08,233.35 C142.99,230.88 142.75,229.29 142.75,227.41 C142.75,225.53 142.67,222.76 143.08,222.06Z" fill="#fbc3c8" stroke="#f0a3ab" stroke-width="0.4"/><rect x="137.68" y="224.14" width="1.31" height="2.67" rx="0.6" fill="#c85a66" opacity="0.6"/><rect x="143.08" y="223.85" width="1.31" height="2.67" rx="0.6" fill="#c85a66" opacity="0.6"/><rect x="143.24" y="236.91" width="1.64" height="5.05" rx="0.6" fill="#c85a66" opacity="0.6"/><polyline points="139.97,233.35 135.72,234.83 133.1,239.29" fill="none" stroke="#a9a3dc" stroke-width="0.7"/><polyline points="135.72,234.83 135.06,228.89" fill="none" stroke="#a9a3dc" stroke-width="0.7"/><polyline points="135.72,234.83 136.37,242.26" fill="none" stroke="#a9a3dc" stroke-width="0.7"/><polyline points="141.93,233.35 146.18,234.83 148.8,239.29" fill="none" stroke="#a9a3dc" stroke-width="0.7"/><polyline points="146.18,234.83 146.84,228.89" fill="none" stroke="#a9a3dc" stroke-width="0.7"/><polyline points="146.18,234.83 145.53,242.26" fill="none" stroke="#a9a3dc" stroke-width="0.7"/><line x1="140.95" y1="220.28" x2="140.95" y2="232.76" stroke="#6f8fc6" stroke-width="1.9"/><clipPath id="c2"><rect x="163.4" y="218.4" width="155" height="116.1"/></clipPath><g clip-path="url(#c2)"><rect x="163.4" y="218.4" width="155" height="116.1" fill="#c2c2c2"/><ellipse cx="240.89" cy="277.67" rx="79.71" ry="61.03" fill="#cbcbcb"/><ellipse cx="240.89" cy="279.49" rx="75.15" ry="55.57" fill="#e6e6e6"/><ellipse cx="240.89" cy="279.94" rx="73.33" ry="53.75" fill="#dcdcdc"/><polygon points="163,218 180.08,218 163,231.66" fill="#262626"/><polygon points="320.14,320.48 320.14,336.42 304.2,336.42" fill="#333"/><ellipse cx="197.16" cy="261.27" rx="26.19" ry="22.77" fill="#e0e0e0"/><ellipse cx="238.15" cy="265.83" rx="25.05" ry="27.33" fill="#e6e6e6"/><clipPath id="lc3"><path d="M170.06,269.92 C170.86,269.73 170.89,278.43 173.7,280.86 C176.51,283.29 182.7,284.5 186.91,284.5 C191.13,284.5 195.38,282.49 198.98,280.86 C202.59,279.22 205.55,275.31 208.55,274.71 C211.55,274.1 215,275.58 216.97,277.21 C218.95,278.84 220.2,282.34 220.39,284.5 C220.58,286.66 217.32,289.02 218.11,290.19 C218.91,291.37 222.97,291.14 225.17,291.56 C227.37,291.98 230.03,291.29 231.32,292.7 C232.61,294.1 232.92,297.18 232.92,299.99 C232.92,302.79 232.19,306.97 231.32,309.55 C230.45,312.13 229.5,313.27 227.68,315.47 C225.86,317.67 223.2,320.94 220.39,322.76 C217.58,324.58 214.39,325.8 210.83,326.4 C207.26,327.01 202.97,327.01 198.98,326.4 C195,325.8 190.1,324.58 186.91,322.76 C183.72,320.94 181.83,318.28 179.85,315.47 C177.88,312.66 176.66,309.51 175.07,305.91 C173.48,302.3 171.31,297.82 170.29,293.84 C169.26,289.85 168.96,285.98 168.92,281.99 C168.88,278.01 169.26,270.11 170.06,269.92Z"/></clipPath><path d="M170.06,269.92 C170.86,269.73 170.89,278.43 173.7,280.86 C176.51,283.29 182.7,284.5 186.91,284.5 C191.13,284.5 195.38,282.49 198.98,280.86 C202.59,279.22 205.55,275.31 208.55,274.71 C211.55,274.1 215,275.58 216.97,277.21 C218.95,278.84 220.2,282.34 220.39,284.5 C220.58,286.66 217.32,289.02 218.11,290.19 C218.91,291.37 222.97,291.14 225.17,291.56 C227.37,291.98 230.03,291.29 231.32,292.7 C232.61,294.1 232.92,297.18 232.92,299.99 C232.92,302.79 232.19,306.97 231.32,309.55 C230.45,312.13 229.5,313.27 227.68,315.47 C225.86,317.67 223.2,320.94 220.39,322.76 C217.58,324.58 214.39,325.8 210.83,326.4 C207.26,327.01 202.97,327.01 198.98,326.4 C195,325.8 190.1,324.58 186.91,322.76 C183.72,320.94 181.83,318.28 179.85,315.47 C177.88,312.66 176.66,309.51 175.07,305.91 C173.48,302.3 171.31,297.82 170.29,293.84 C169.26,289.85 168.96,285.98 168.92,281.99 C168.88,278.01 169.26,270.11 170.06,269.92Z" fill="#3a3a3a"/><g clip-path="url(#lc3)"><rect x="166.92" y="267.92" width="67.99" height="60.48" filter="url(#mot)" opacity="0.45"/><rect x="166.92" y="267.92" width="67.99" height="60.48" filter="url(#spk)" opacity="0.4"/><rect x="166.92" y="267.92" width="67.99" height="60.48" filter="url(#ret)" opacity="0.3"/></g><clipPath id="lc4"><path d="M171.43,266.05 C171.27,264.19 172.53,258.2 173.48,254.89 C174.42,251.59 175.56,249.09 177.12,246.24 C178.68,243.39 180.92,239.94 182.81,237.81 C184.71,235.69 186.15,234.55 188.51,233.49 C190.86,232.42 193.4,231.89 196.93,231.44 C200.46,230.98 207.56,230.41 209.69,230.75 C211.81,231.09 210.86,232.54 209.69,233.49 C208.51,234.44 204.98,235.84 202.63,236.45 C200.27,237.05 197.46,236.79 195.57,237.13 C193.67,237.47 193.14,237.43 191.24,238.5 C189.34,239.56 186.31,241 184.18,243.51 C182.05,246.01 180.12,249.77 178.49,253.53 C176.85,257.28 175.56,263.97 174.39,266.05 C173.21,268.14 171.58,267.91 171.43,266.05Z"/></clipPath><path d="M171.43,266.05 C171.27,264.19 172.53,258.2 173.48,254.89 C174.42,251.59 175.56,249.09 177.12,246.24 C178.68,243.39 180.92,239.94 182.81,237.81 C184.71,235.69 186.15,234.55 188.51,233.49 C190.86,232.42 193.4,231.89 196.93,231.44 C200.46,230.98 207.56,230.41 209.69,230.75 C211.81,231.09 210.86,232.54 209.69,233.49 C208.51,234.44 204.98,235.84 202.63,236.45 C200.27,237.05 197.46,236.79 195.57,237.13 C193.67,237.47 193.14,237.43 191.24,238.5 C189.34,239.56 186.31,241 184.18,243.51 C182.05,246.01 180.12,249.77 178.49,253.53 C176.85,257.28 175.56,263.97 174.39,266.05 C173.21,268.14 171.58,267.91 171.43,266.05Z" fill="#383838"/><g clip-path="url(#lc4)"><rect x="169.43" y="228.75" width="42.26" height="39.3" filter="url(#spk2)" opacity="0.3"/></g><clipPath id="lc5"><path d="M255.46,233.49 C255.69,232.2 260.4,231.44 263.89,231.21 C267.38,230.98 272.69,231.06 276.41,232.12 C280.13,233.18 282.49,235.04 286.21,237.59 C289.93,240.13 295.2,244.11 298.73,247.38 C302.26,250.64 305.26,253.41 307.39,257.17 C309.51,260.93 310.69,265.48 311.49,269.92 C312.28,274.37 312.4,279.15 312.17,283.82 C311.94,288.49 311.41,293.27 310.12,297.94 C308.83,302.6 306.78,307.88 304.43,311.83 C302.07,315.78 299.26,319.04 296,321.62 C292.74,324.2 288.79,326.59 284.84,327.31 C280.89,328.04 276.3,327.12 272.31,325.95 C268.33,324.77 264.23,322.11 260.93,320.25 C257.63,318.39 254.36,316.88 252.5,314.79 C250.64,312.7 249.5,310.08 249.77,307.73 C250.03,305.38 253.37,303.02 254.1,300.67 C254.82,298.32 253.18,295.24 254.1,293.61 C255.01,291.98 258.54,292.51 259.56,290.88 C260.59,289.24 259.3,285.68 260.24,283.82 C261.19,281.96 264.19,281.58 265.25,279.72 C266.32,277.86 265.71,275.01 266.62,272.66 C267.53,270.3 270.04,267.95 270.72,265.6 C271.4,263.24 271.18,261.57 270.72,258.54 C270.26,255.5 269.35,250.64 267.99,247.38 C266.62,244.11 264.61,241.27 262.52,238.95 C260.43,236.64 255.23,234.78 255.46,233.49Z"/></clipPath><path d="M255.46,233.49 C255.69,232.2 260.4,231.44 263.89,231.21 C267.38,230.98 272.69,231.06 276.41,232.12 C280.13,233.18 282.49,235.04 286.21,237.59 C289.93,240.13 295.2,244.11 298.73,247.38 C302.26,250.64 305.26,253.41 307.39,257.17 C309.51,260.93 310.69,265.48 311.49,269.92 C312.28,274.37 312.4,279.15 312.17,283.82 C311.94,288.49 311.41,293.27 310.12,297.94 C308.83,302.6 306.78,307.88 304.43,311.83 C302.07,315.78 299.26,319.04 296,321.62 C292.74,324.2 288.79,326.59 284.84,327.31 C280.89,328.04 276.3,327.12 272.31,325.95 C268.33,324.77 264.23,322.11 260.93,320.25 C257.63,318.39 254.36,316.88 252.5,314.79 C250.64,312.7 249.5,310.08 249.77,307.73 C250.03,305.38 253.37,303.02 254.1,300.67 C254.82,298.32 253.18,295.24 254.1,293.61 C255.01,291.98 258.54,292.51 259.56,290.88 C260.59,289.24 259.3,285.68 260.24,283.82 C261.19,281.96 264.19,281.58 265.25,279.72 C266.32,277.86 265.71,275.01 266.62,272.66 C267.53,270.3 270.04,267.95 270.72,265.6 C271.4,263.24 271.18,261.57 270.72,258.54 C270.26,255.5 269.35,250.64 267.99,247.38 C266.62,244.11 264.61,241.27 262.52,238.95 C260.43,236.64 255.23,234.78 255.46,233.49Z" fill="#363636"/><g clip-path="url(#lc5)"><rect x="247.77" y="229.21" width="66.4" height="100.11" filter="url(#mot)" opacity="0.4"/><rect x="247.77" y="229.21" width="66.4" height="100.11" filter="url(#spk2)" opacity="0.38"/><rect x="247.77" y="229.21" width="66.4" height="100.11" filter="url(#ret)" opacity="0.22"/></g><line x1="215.38" y1="286.32" x2="209.69" y2="295.43" stroke="#e6e6e6" stroke-width="0.8" opacity="0.8"/><line x1="209.69" y1="295.43" x2="203.99" y2="313.65" stroke="#e6e6e6" stroke-width="0.8" opacity="0.8"/><line x1="209.69" y1="295.43" x2="211.96" y2="318.2" stroke="#e6e6e6" stroke-width="0.8" opacity="0.8"/><line x1="209.69" y1="295.43" x2="217.66" y2="313.65" stroke="#e6e6e6" stroke-width="0.8" opacity="0.8"/><line x1="209.69" y1="295.43" x2="197.16" y2="304.54" stroke="#e6e6e6" stroke-width="0.8" opacity="0.8"/><line x1="209.69" y1="295.43" x2="188.05" y2="299.99" stroke="#e6e6e6" stroke-width="0.8" opacity="0.8"/><line x1="276.87" y1="274.93" x2="285.98" y2="265.83" stroke="#dcdcdc" stroke-width="0.7" opacity="0.7"/><line x1="263.2" y1="293.15" x2="270.04" y2="313.65" stroke="#dcdcdc" stroke-width="0.7" opacity="0.7"/><line x1="270.04" y1="286.32" x2="258.65" y2="299.99" stroke="#dcdcdc" stroke-width="0.7" opacity="0.7"/><circle cx="262.4" cy="288.7" r="1.9" fill="#111"/><circle cx="269.2" cy="290.6" r="2.4" fill="#f0f0f0"/><ellipse cx="277.5" cy="274.2" rx="3.4" ry="2.4" fill="#e8e8e8"/><circle cx="273" cy="276.8" r="1.4" fill="#111"/><ellipse cx="215.5" cy="296" rx="1.6" ry="4" fill="#eeeeee"/><circle cx="213.5" cy="294" r="1.2" fill="#111"/><ellipse cx="242.3" cy="226.5" rx="5" ry="2.4" fill="#f4f4f4"/><ellipse cx="239.29" cy="318.2" rx="6.5" ry="7" fill="#f2f2f2"/><ellipse cx="239.29" cy="325.49" rx="4" ry="3" fill="#e6e6e6"/><ellipse cx="239.29" cy="227.11" rx="10" ry="3" fill="#eeeeee"/><polygon points="170.3,310.2 179.6,307.6 179.1,305.6 184.3,307.7 180.3,311.6 180.1,309.7 170.8,312.4" fill="#fff" stroke="#333" stroke-width="0.5"/></g><rect x="163.4" y="218.4" width="155" height="116.1" fill="none" stroke="#3a3a3a" stroke-width="1"/><rect x="284.2" y="218.4" width="33.6" height="28.9" fill="#fff" stroke="#1e1e1e" stroke-width="1"/><path d="M297.14,221.87 C298.09,221.63 298.23,222.45 298.65,223.31 C299.07,224.18 299.49,225.24 299.66,227.07 C299.82,228.9 299.74,231.98 299.66,234.3 C299.57,236.61 299.38,239.5 299.15,240.94 C298.93,242.39 300.13,242.29 298.31,242.97 C296.49,243.64 289.86,245.95 288.23,244.99 C286.61,244.02 288.23,239.69 288.57,237.19 C288.9,234.68 289.52,232.03 290.25,229.96 C290.98,227.89 291.79,226.11 292.94,224.76 C294.08,223.41 296.18,222.11 297.14,221.87Z" fill="#fccacd" stroke="#f0a3ab" stroke-width="0.4"/><path d="M303.18,221.87 C303.6,221.19 304.44,222.3 305.37,223.02 C306.29,223.75 307.66,224.81 308.73,226.2 C309.79,227.6 311,229.43 311.75,231.41 C312.51,233.38 312.84,235.79 313.26,238.05 C313.68,240.32 315.42,244.17 314.27,244.99 C313.12,245.81 308.2,243.54 306.38,242.97 C304.56,242.39 303.88,243.21 303.35,241.52 C302.82,239.83 303.27,235.26 303.18,232.85 C303.1,230.44 302.85,228.9 302.85,227.07 C302.85,225.24 302.76,222.54 303.18,221.87Z" fill="#fccacd" stroke="#f0a3ab" stroke-width="0.4"/><rect x="297.64" y="223.89" width="1.34" height="2.6" rx="0.6" fill="#c85a66" opacity="0.6"/><rect x="303.18" y="223.6" width="1.34" height="2.6" rx="0.6" fill="#c85a66" opacity="0.6"/><rect x="303.35" y="236.32" width="1.68" height="4.91" rx="0.6" fill="#c85a66" opacity="0.6"/><polyline points="299.99,232.85 295.62,234.3 292.94,238.63" fill="none" stroke="#a9a3dc" stroke-width="0.7"/><polyline points="295.62,234.3 294.95,228.52" fill="none" stroke="#a9a3dc" stroke-width="0.7"/><polyline points="295.62,234.3 296.3,241.52" fill="none" stroke="#a9a3dc" stroke-width="0.7"/><polyline points="302.01,232.85 306.38,234.3 309.06,238.63" fill="none" stroke="#a9a3dc" stroke-width="0.7"/><polyline points="306.38,234.3 307.05,228.52" fill="none" stroke="#a9a3dc" stroke-width="0.7"/><polyline points="306.38,234.3 305.7,241.52" fill="none" stroke="#a9a3dc" stroke-width="0.7"/><line x1="301" y1="220.13" x2="301" y2="232.27" stroke="#6f8fc6" stroke-width="1.9"/><polygon points="288.23,235.16 314.44,235.16 315.45,237.47 287.22,237.47" fill="#888" opacity="0.55"/><line x1="287.56" y1="237.32" x2="315.11" y2="237.32" stroke="#222" stroke-width="0.9"/><clipPath id="c3"><rect x="342.3" y="218.4" width="131.4" height="115.1"/></clipPath><g clip-path="url(#c3)"><rect x="342.3" y="218.4" width="131.4" height="115.1" fill="#d8d8d8"/><path d="M342,218 C345.85,198.73 363.19,211.58 365.12,218 C367.05,224.42 356.45,243.69 353.56,256.54 C350.67,269.38 349.06,282.23 347.78,295.07 C346.5,307.92 346.82,327.18 345.85,333.61 C344.89,340.03 342.64,352.87 342,333.61 C341.36,314.34 338.15,237.27 342,218Z" fill="#e0e0e0"/><ellipse cx="361.27" cy="243.05" rx="1.5" ry="3.3" fill="#f4f4f4" transform="rotate(25 361.27 243.05)"/><ellipse cx="358.38" cy="254.61" rx="1.5" ry="3.3" fill="#f4f4f4" transform="rotate(25 358.38 254.61)"/><ellipse cx="355.49" cy="266.17" rx="1.5" ry="3.3" fill="#f4f4f4" transform="rotate(25 355.49 266.17)"/><ellipse cx="353.56" cy="277.73" rx="1.5" ry="3.3" fill="#f4f4f4" transform="rotate(25 353.56 277.73)"/><ellipse cx="351.63" cy="291.22" rx="1.5" ry="3.3" fill="#f4f4f4" transform="rotate(25 351.63 291.22)"/><ellipse cx="350.09" cy="306.63" rx="1.5" ry="3.3" fill="#f4f4f4" transform="rotate(25 350.09 306.63)"/><ellipse cx="349.71" cy="322.05" rx="1.5" ry="3.3" fill="#f4f4f4" transform="rotate(25 349.71 322.05)"/><path d="M398.84,218 C402.53,211.58 416.34,211.58 420.03,218 C423.73,224.42 420.68,237.27 421,256.54 C421.32,275.8 425.98,320.76 421.96,333.61 C417.95,346.45 400.93,346.45 396.91,333.61 C392.9,320.76 397.56,275.8 397.88,256.54 C398.2,237.27 395.15,224.42 398.84,218Z" fill="#ececec"/><rect x="403.94" y="225.06" width="11" height="9" rx="2.5" fill="#f1f1f1"/><rect x="403.94" y="237.01" width="11" height="9" rx="2.5" fill="#f1f1f1"/><rect x="403.94" y="248.95" width="11" height="9" rx="2.5" fill="#f1f1f1"/><rect x="403.94" y="260.9" width="11" height="9" rx="2.5" fill="#f1f1f1"/><rect x="403.94" y="272.84" width="11" height="9" rx="2.5" fill="#f1f1f1"/><rect x="403.94" y="284.79" width="11" height="9" rx="2.5" fill="#f1f1f1"/><rect x="403.94" y="296.74" width="11" height="9" rx="2.5" fill="#f1f1f1"/><rect x="403.94" y="308.68" width="11" height="9" rx="2.5" fill="#f1f1f1"/><rect x="403.94" y="320.63" width="11" height="9" rx="2.5" fill="#f1f1f1"/><ellipse cx="461.46" cy="256.54" rx="1.4" ry="3.1" fill="#f0f0f0" transform="rotate(-20 461.46 256.54)"/><ellipse cx="464.35" cy="271.95" rx="1.4" ry="3.1" fill="#f0f0f0" transform="rotate(-20 464.35 271.95)"/><ellipse cx="466.28" cy="287.36" rx="1.4" ry="3.1" fill="#f0f0f0" transform="rotate(-20 466.28 287.36)"/><ellipse cx="468.2" cy="302.78" rx="1.4" ry="3.1" fill="#f0f0f0" transform="rotate(-20 468.2 302.78)"/><ellipse cx="469.17" cy="318.19" rx="1.4" ry="3.1" fill="#f0f0f0" transform="rotate(-20 469.17 318.19)"/><path d="M345.85,333.61 C337.34,329.43 345.53,313.7 347.78,308.56 C350.03,303.42 354.85,304 359.34,302.78 C363.84,301.56 369.94,300.27 374.76,301.24 C379.57,302.2 384.55,305.09 388.24,308.56 C391.94,312.03 395.15,317.87 396.91,322.05 C398.68,326.22 407.35,331.68 398.84,333.61 C390.33,335.53 354.36,337.78 345.85,333.61Z" fill="#d6d6d6"/><path d="M424.85,333.61 C417.79,332.8 427.1,330.07 430.63,328.79 C434.16,327.51 440.27,325.9 446.05,325.9 C451.83,325.9 460.82,327.51 465.31,328.79 C469.81,330.07 479.76,332.8 473.02,333.61 C466.28,334.41 431.92,334.41 424.85,333.61Z" fill="#d2d2d2"/><clipPath id="lc6"><path d="M384.97,226.86 C387.41,227.6 391.42,229.34 393.64,231.29 C395.85,233.25 397.27,234.67 398.26,238.62 C399.26,242.57 399.51,248.57 399.61,254.99 C399.71,261.42 399.06,269.77 398.84,277.15 C398.62,284.54 398.62,293.4 398.26,299.31 C397.91,305.22 397.49,309.17 396.72,312.61 C395.95,316.04 394.86,319.93 393.64,319.93 C392.42,319.93 391.1,314.82 389.4,312.61 C387.7,310.39 385.9,308.49 383.43,306.63 C380.95,304.77 377.77,302.52 374.56,301.43 C371.35,300.34 367.63,299.92 364.16,300.08 C360.69,300.24 356.58,301.53 353.75,302.39 C350.93,303.26 348.04,307.02 347.2,305.28 C346.37,303.55 348.13,296.68 348.74,291.99 C349.35,287.3 350.03,282.1 350.86,277.15 C351.7,272.21 352.5,267.23 353.75,262.32 C355.01,257.4 356.64,252.1 358.38,247.67 C360.11,243.24 361.94,238.71 364.16,235.73 C366.37,232.74 369.2,231.23 371.67,229.75 C374.15,228.28 376.78,227.34 378.99,226.86 C381.21,226.38 382.53,226.12 384.97,226.86Z"/></clipPath><path d="M384.97,226.86 C387.41,227.6 391.42,229.34 393.64,231.29 C395.85,233.25 397.27,234.67 398.26,238.62 C399.26,242.57 399.51,248.57 399.61,254.99 C399.71,261.42 399.06,269.77 398.84,277.15 C398.62,284.54 398.62,293.4 398.26,299.31 C397.91,305.22 397.49,309.17 396.72,312.61 C395.95,316.04 394.86,319.93 393.64,319.93 C392.42,319.93 391.1,314.82 389.4,312.61 C387.7,310.39 385.9,308.49 383.43,306.63 C380.95,304.77 377.77,302.52 374.56,301.43 C371.35,300.34 367.63,299.92 364.16,300.08 C360.69,300.24 356.58,301.53 353.75,302.39 C350.93,303.26 348.04,307.02 347.2,305.28 C346.37,303.55 348.13,296.68 348.74,291.99 C349.35,287.3 350.03,282.1 350.86,277.15 C351.7,272.21 352.5,267.23 353.75,262.32 C355.01,257.4 356.64,252.1 358.38,247.67 C360.11,243.24 361.94,238.71 364.16,235.73 C366.37,232.74 369.2,231.23 371.67,229.75 C374.15,228.28 376.78,227.34 378.99,226.86 C381.21,226.38 382.53,226.12 384.97,226.86Z" fill="#5c5c5c"/><g clip-path="url(#lc6)"><rect x="345.2" y="224.86" width="56.41" height="97.06" filter="url(#blot)" opacity="0.8"/><rect x="345.2" y="224.86" width="56.41" height="97.06" filter="url(#spk)" opacity="0.5"/></g><clipPath id="lc7"><path d="M429.48,223.97 C432.21,223.23 436.67,221.4 439.88,225.32 C443.09,229.24 446.05,243.02 448.74,247.48 C451.44,251.94 454.07,249.63 456.07,252.1 C458.06,254.58 459.44,258.14 460.69,262.32 C461.94,266.49 462.75,272.21 463.58,277.15 C464.41,282.1 465.09,287.08 465.7,291.99 C466.31,296.9 466.89,301.72 467.24,306.63 C467.59,311.55 467.95,318.03 467.82,321.47 C467.69,324.9 468.43,326.51 466.47,327.25 C464.51,327.99 459.76,326.25 456.07,325.9 C452.37,325.55 447.97,324.9 444.31,325.13 C440.65,325.35 436.8,326.38 434.1,327.25 C431.4,328.12 429.64,331.29 428.13,330.33 C426.62,329.37 425.91,325.42 425.04,321.47 C424.18,317.52 423.54,311.55 422.92,306.63 C422.31,301.72 421.77,296.9 421.38,291.99 C421,287.08 420.87,282.1 420.61,277.15 C420.36,272.21 419.84,266.49 419.84,262.32 C419.84,258.14 420.23,255.8 420.61,252.1 C421,248.41 421.67,243.88 422.15,240.16 C422.64,236.43 422.28,232.45 423.5,229.75 C424.72,227.06 426.75,224.71 429.48,223.97Z"/></clipPath><path d="M429.48,223.97 C432.21,223.23 436.67,221.4 439.88,225.32 C443.09,229.24 446.05,243.02 448.74,247.48 C451.44,251.94 454.07,249.63 456.07,252.1 C458.06,254.58 459.44,258.14 460.69,262.32 C461.94,266.49 462.75,272.21 463.58,277.15 C464.41,282.1 465.09,287.08 465.7,291.99 C466.31,296.9 466.89,301.72 467.24,306.63 C467.59,311.55 467.95,318.03 467.82,321.47 C467.69,324.9 468.43,326.51 466.47,327.25 C464.51,327.99 459.76,326.25 456.07,325.9 C452.37,325.55 447.97,324.9 444.31,325.13 C440.65,325.35 436.8,326.38 434.1,327.25 C431.4,328.12 429.64,331.29 428.13,330.33 C426.62,329.37 425.91,325.42 425.04,321.47 C424.18,317.52 423.54,311.55 422.92,306.63 C422.31,301.72 421.77,296.9 421.38,291.99 C421,287.08 420.87,282.1 420.61,277.15 C420.36,272.21 419.84,266.49 419.84,262.32 C419.84,258.14 420.23,255.8 420.61,252.1 C421,248.41 421.67,243.88 422.15,240.16 C422.64,236.43 422.28,232.45 423.5,229.75 C424.72,227.06 426.75,224.71 429.48,223.97Z" fill="#7a7a7a"/><g clip-path="url(#lc7)"><rect x="417.84" y="221.97" width="51.98" height="110.36" filter="url(#blot2)" opacity="0.8"/><rect x="417.84" y="221.97" width="51.98" height="110.36" filter="url(#spk2)" opacity="0.5"/></g><clipPath id="lc8"><path d="M429.48,223.97 C432.21,223.23 436.67,221.4 439.88,225.32 C443.09,229.24 447.07,243.24 448.74,247.48 C450.41,251.72 450.99,249.89 449.9,250.76 C448.81,251.62 444.76,252.04 442.19,252.68 C439.62,253.32 437.05,253.48 434.49,254.61 C431.92,255.73 429.09,257.82 426.78,259.43 C424.47,261.03 421.77,263.76 420.61,264.24 C419.46,264.72 419.84,264.34 419.84,262.32 C419.84,260.29 420.23,255.8 420.61,252.1 C421,248.41 421.67,243.88 422.15,240.16 C422.64,236.43 422.28,232.45 423.5,229.75 C424.72,227.06 426.75,224.71 429.48,223.97Z"/></clipPath><path d="M429.48,223.97 C432.21,223.23 436.67,221.4 439.88,225.32 C443.09,229.24 447.07,243.24 448.74,247.48 C450.41,251.72 450.99,249.89 449.9,250.76 C448.81,251.62 444.76,252.04 442.19,252.68 C439.62,253.32 437.05,253.48 434.49,254.61 C431.92,255.73 429.09,257.82 426.78,259.43 C424.47,261.03 421.77,263.76 420.61,264.24 C419.46,264.72 419.84,264.34 419.84,262.32 C419.84,260.29 420.23,255.8 420.61,252.1 C421,248.41 421.67,243.88 422.15,240.16 C422.64,236.43 422.28,232.45 423.5,229.75 C424.72,227.06 426.75,224.71 429.48,223.97Z" fill="#3e3e3e"/><g clip-path="url(#lc8)"><rect x="417.84" y="221.97" width="34.06" height="44.27" filter="url(#spk2)" opacity="0.3"/></g><ellipse cx="383" cy="282" rx="7" ry="9" fill="#b0b0b0" opacity="0.45"/><ellipse cx="386.5" cy="291" rx="2" ry="5" fill="#dcdcdc" opacity="0.8"/><ellipse cx="437" cy="284" rx="6" ry="8" fill="#b4b4b4" opacity="0.45"/><ellipse cx="356" cy="292" rx="5" ry="10" fill="#3a3a3a" opacity="0.35"/><path d="M421,254 L440,262 L460,276 L462,281 L440,270 L421,262 Z" fill="#3c3c3c" opacity="0.5"/><line x1="380.5" y1="279.9" x2="380.5" y2="287.1" stroke="#000" stroke-width="1.5"/><line x1="383.62" y1="281.7" x2="377.38" y2="285.3" stroke="#000" stroke-width="1.5"/><line x1="383.62" y1="285.3" x2="377.38" y2="281.7" stroke="#000" stroke-width="1.5"/><line x1="436.4" y1="275.7" x2="436.4" y2="282.9" stroke="#000" stroke-width="1.5"/><line x1="439.52" y1="277.5" x2="433.28" y2="281.1" stroke="#000" stroke-width="1.5"/><line x1="439.52" y1="281.1" x2="433.28" y2="277.5" stroke="#000" stroke-width="1.5"/></g><rect x="342.3" y="218.4" width="131.4" height="115.1" fill="none" stroke="#4a4a4a" stroke-width="1"/><rect x="440.4" y="218.4" width="33.3" height="29.9" fill="#fff" stroke="#1e1e1e" stroke-width="1"/><rect x="444.33" y="221.39" width="25.81" height="23.92" fill="#d2d2d2" stroke="#444" stroke-width="0.6" stroke-dasharray="1.5 1"/><path d="M453.22,221.99 C454.16,221.74 454.3,222.59 454.72,223.48 C455.14,224.38 455.55,225.48 455.72,227.37 C455.88,229.26 455.8,232.45 455.72,234.84 C455.63,237.24 455.44,240.23 455.22,241.72 C455,243.22 456.19,243.12 454.39,243.81 C452.58,244.51 446.01,246.9 444.4,245.91 C442.79,244.91 444.4,240.43 444.73,237.84 C445.06,235.24 445.67,232.5 446.39,230.36 C447.12,228.22 447.92,226.37 449.06,224.98 C450.2,223.58 452.28,222.24 453.22,221.99Z" fill="#fbc3c8" stroke="#f0a3ab" stroke-width="0.4"/><path d="M459.21,221.99 C459.63,221.29 460.46,222.44 461.38,223.18 C462.29,223.93 463.65,225.03 464.71,226.47 C465.76,227.92 466.96,229.81 467.71,231.86 C468.46,233.9 468.79,236.39 469.2,238.73 C469.62,241.07 471.34,245.06 470.2,245.91 C469.07,246.76 464.18,244.41 462.38,243.81 C460.57,243.22 459.91,244.06 459.38,242.32 C458.85,240.58 459.3,235.84 459.21,233.35 C459.13,230.86 458.88,229.26 458.88,227.37 C458.88,225.48 458.8,222.69 459.21,221.99Z" fill="#fbc3c8" stroke="#f0a3ab" stroke-width="0.4"/><rect x="453.72" y="224.08" width="1.33" height="2.69" rx="0.6" fill="#c85a66" opacity="0.6"/><rect x="459.21" y="223.78" width="1.33" height="2.69" rx="0.6" fill="#c85a66" opacity="0.6"/><rect x="459.38" y="236.94" width="1.67" height="5.08" rx="0.6" fill="#c85a66" opacity="0.6"/><polyline points="456.05,233.35 451.72,234.84 449.06,239.33" fill="none" stroke="#a9a3dc" stroke-width="0.7"/><polyline points="451.72,234.84 451.06,228.87" fill="none" stroke="#a9a3dc" stroke-width="0.7"/><polyline points="451.72,234.84 452.39,242.32" fill="none" stroke="#a9a3dc" stroke-width="0.7"/><polyline points="458.05,233.35 462.38,234.84 465.04,239.33" fill="none" stroke="#a9a3dc" stroke-width="0.7"/><polyline points="462.38,234.84 463.04,228.87" fill="none" stroke="#a9a3dc" stroke-width="0.7"/><polyline points="462.38,234.84 461.71,242.32" fill="none" stroke="#a9a3dc" stroke-width="0.7"/><line x1="457.05" y1="220.19" x2="457.05" y2="232.75" stroke="#6f8fc6" stroke-width="1.9"/><clipPath id="c4"><rect x="479.5" y="218.4" width="155.2" height="115.1"/></clipPath><g clip-path="url(#c4)"><rect x="479.5" y="218.4" width="155.2" height="115.1" fill="#c6c6c6"/><ellipse cx="556.43" cy="277.67" rx="80.16" ry="60.58" fill="#cdcdcd"/><ellipse cx="556.43" cy="278.58" rx="76.06" ry="55.11" fill="#e8e8e8"/><ellipse cx="556.43" cy="279.03" rx="73.79" ry="52.84" fill="#dcdcdc"/><polygon points="479,218 486.97,218 479,224.83" fill="#2a2a2a"/><ellipse cx="507.47" cy="260.13" rx="26.19" ry="28.47" fill="#dfdfdf"/><ellipse cx="564.4" cy="261.27" rx="33.02" ry="29.61" fill="#efefef"/><clipPath id="lc9"><path d="M483.78,271.75 C484.69,272.54 486.4,279.49 488.57,282.45 C490.73,285.41 493.84,287.95 496.76,289.51 C499.69,291.07 503.14,292.17 506.1,291.79 C509.06,291.41 511.95,288.98 514.53,287.23 C517.11,285.49 519.04,282.91 521.59,281.31 C524.13,279.72 527.24,277.67 529.79,277.67 C532.33,277.67 535.25,279.91 536.85,281.31 C538.44,282.72 538.33,284.54 539.35,286.09 C540.38,287.65 541.63,289.28 542.99,290.65 C544.36,292.02 546.6,292.51 547.55,294.29 C548.5,296.08 548.88,298.77 548.69,301.35 C548.5,303.93 547.59,307.2 546.41,309.78 C545.23,312.36 543.79,314.9 541.63,316.84 C539.46,318.77 536.39,320.22 533.43,321.39 C530.47,322.57 527.2,323.67 523.86,323.9 C520.52,324.13 516.92,323.56 513.39,322.76 C509.86,321.96 505.84,320.9 502.68,319.12 C499.53,317.33 496.84,314.83 494.49,312.06 C492.13,309.29 490.16,306.06 488.57,302.49 C486.97,298.92 485.83,294.79 484.92,290.65 C484.01,286.51 483.29,280.82 483.1,277.67 C482.91,274.52 482.87,270.95 483.78,271.75Z"/></clipPath><path d="M483.78,271.75 C484.69,272.54 486.4,279.49 488.57,282.45 C490.73,285.41 493.84,287.95 496.76,289.51 C499.69,291.07 503.14,292.17 506.1,291.79 C509.06,291.41 511.95,288.98 514.53,287.23 C517.11,285.49 519.04,282.91 521.59,281.31 C524.13,279.72 527.24,277.67 529.79,277.67 C532.33,277.67 535.25,279.91 536.85,281.31 C538.44,282.72 538.33,284.54 539.35,286.09 C540.38,287.65 541.63,289.28 542.99,290.65 C544.36,292.02 546.6,292.51 547.55,294.29 C548.5,296.08 548.88,298.77 548.69,301.35 C548.5,303.93 547.59,307.2 546.41,309.78 C545.23,312.36 543.79,314.9 541.63,316.84 C539.46,318.77 536.39,320.22 533.43,321.39 C530.47,322.57 527.2,323.67 523.86,323.9 C520.52,324.13 516.92,323.56 513.39,322.76 C509.86,321.96 505.84,320.9 502.68,319.12 C499.53,317.33 496.84,314.83 494.49,312.06 C492.13,309.29 490.16,306.06 488.57,302.49 C486.97,298.92 485.83,294.79 484.92,290.65 C484.01,286.51 483.29,280.82 483.1,277.67 C482.91,274.52 482.87,270.95 483.78,271.75Z" fill="#5a5a5a"/><g clip-path="url(#lc9)"><rect x="481.1" y="269.75" width="69.59" height="56.15" filter="url(#blot)" opacity="0.8"/><rect x="481.1" y="269.75" width="69.59" height="56.15" filter="url(#spk)" opacity="0.5"/></g><path d="M485.83,252.16 C486.21,249.88 488.11,244 490.39,240.77 C492.66,237.55 496.84,234.7 499.5,232.8 C502.15,230.91 505,229.58 506.33,229.39 C507.66,229.2 508.42,230.72 507.47,231.66 C506.52,232.61 503.1,233.18 500.64,235.08 C498.17,236.98 494.75,239.82 492.66,243.05 C490.58,246.28 489.25,252.92 488.11,254.44 C486.97,255.96 485.45,254.44 485.83,252.16Z" fill="#3a3a3a"/><clipPath id="lc10"><path d="M585.13,228.48 C586.3,227.79 591.54,227.45 594.24,227.79 C596.93,228.13 597.35,227.49 601.3,230.53 C605.24,233.56 613.48,242.25 617.92,246.01 C622.36,249.77 625.7,250.04 627.94,253.07 C630.18,256.11 630.67,260.06 631.36,264.23 C632.04,268.41 632.15,273.45 632.04,278.12 C631.93,282.79 631.85,287.54 630.67,292.24 C629.5,296.95 627.33,302.15 624.98,306.36 C622.63,310.58 619.82,314.49 616.55,317.52 C613.29,320.56 609.11,323.18 605.39,324.58 C601.68,325.99 597.96,326.21 594.24,325.95 C590.52,325.68 586.34,324.39 583.08,322.99 C579.81,321.58 576.78,319.84 574.65,317.52 C572.52,315.21 570.55,311.45 570.32,309.1 C570.1,306.74 571.65,305.03 573.28,303.4 C574.92,301.77 578.75,301.39 580.12,299.3 C581.48,297.22 580.99,293.46 581.48,290.88 C581.98,288.3 582.13,286.17 583.08,283.82 C584.03,281.46 585.77,279.11 587.18,276.76 C588.58,274.4 589.87,272.51 591.5,269.7 C593.13,266.89 596.06,263.17 596.97,259.9 C597.88,256.64 597.65,253.6 596.97,250.11 C596.29,246.62 594.5,241.99 592.87,238.95 C591.24,235.92 588.47,233.64 587.18,231.89 C585.89,230.15 583.95,229.16 585.13,228.48Z"/></clipPath><path d="M585.13,228.48 C586.3,227.79 591.54,227.45 594.24,227.79 C596.93,228.13 597.35,227.49 601.3,230.53 C605.24,233.56 613.48,242.25 617.92,246.01 C622.36,249.77 625.7,250.04 627.94,253.07 C630.18,256.11 630.67,260.06 631.36,264.23 C632.04,268.41 632.15,273.45 632.04,278.12 C631.93,282.79 631.85,287.54 630.67,292.24 C629.5,296.95 627.33,302.15 624.98,306.36 C622.63,310.58 619.82,314.49 616.55,317.52 C613.29,320.56 609.11,323.18 605.39,324.58 C601.68,325.99 597.96,326.21 594.24,325.95 C590.52,325.68 586.34,324.39 583.08,322.99 C579.81,321.58 576.78,319.84 574.65,317.52 C572.52,315.21 570.55,311.45 570.32,309.1 C570.1,306.74 571.65,305.03 573.28,303.4 C574.92,301.77 578.75,301.39 580.12,299.3 C581.48,297.22 580.99,293.46 581.48,290.88 C581.98,288.3 582.13,286.17 583.08,283.82 C584.03,281.46 585.77,279.11 587.18,276.76 C588.58,274.4 589.87,272.51 591.5,269.7 C593.13,266.89 596.06,263.17 596.97,259.9 C597.88,256.64 597.65,253.6 596.97,250.11 C596.29,246.62 594.5,241.99 592.87,238.95 C591.24,235.92 588.47,233.64 587.18,231.89 C585.89,230.15 583.95,229.16 585.13,228.48Z" fill="#868686"/><g clip-path="url(#lc10)"><rect x="568.32" y="225.79" width="65.72" height="102.16" filter="url(#blot2)" opacity="0.75"/><rect x="568.32" y="225.79" width="65.72" height="102.16" filter="url(#spk2)" opacity="0.5"/></g><clipPath id="lc11"><path d="M585.13,228.48 C586.3,227.79 591.54,227.45 594.24,227.79 C596.93,228.13 599.25,229.31 601.3,230.53 C603.35,231.74 606.12,232.99 606.53,235.08 C606.95,237.17 604.64,240.2 603.8,243.05 C602.97,245.9 602.43,248.74 601.52,252.16 C600.61,255.58 599.59,260.13 598.34,263.55 C597.08,266.96 595.41,269.62 594.01,272.66 C592.6,275.69 591.16,278.73 589.91,281.77 C588.66,284.8 587.59,287.95 586.49,290.88 C585.39,293.8 584.37,297.9 583.3,299.3 C582.24,300.71 580.42,300.71 580.12,299.3 C579.81,297.9 580.99,293.46 581.48,290.88 C581.98,288.3 582.13,286.17 583.08,283.82 C584.03,281.46 585.77,279.11 587.18,276.76 C588.58,274.4 589.87,272.51 591.5,269.7 C593.13,266.89 596.06,263.17 596.97,259.9 C597.88,256.64 597.65,253.6 596.97,250.11 C596.29,246.62 594.5,241.99 592.87,238.95 C591.24,235.92 588.47,233.64 587.18,231.89 C585.89,230.15 583.95,229.16 585.13,228.48Z"/></clipPath><path d="M585.13,228.48 C586.3,227.79 591.54,227.45 594.24,227.79 C596.93,228.13 599.25,229.31 601.3,230.53 C603.35,231.74 606.12,232.99 606.53,235.08 C606.95,237.17 604.64,240.2 603.8,243.05 C602.97,245.9 602.43,248.74 601.52,252.16 C600.61,255.58 599.59,260.13 598.34,263.55 C597.08,266.96 595.41,269.62 594.01,272.66 C592.6,275.69 591.16,278.73 589.91,281.77 C588.66,284.8 587.59,287.95 586.49,290.88 C585.39,293.8 584.37,297.9 583.3,299.3 C582.24,300.71 580.42,300.71 580.12,299.3 C579.81,297.9 580.99,293.46 581.48,290.88 C581.98,288.3 582.13,286.17 583.08,283.82 C584.03,281.46 585.77,279.11 587.18,276.76 C588.58,274.4 589.87,272.51 591.5,269.7 C593.13,266.89 596.06,263.17 596.97,259.9 C597.88,256.64 597.65,253.6 596.97,250.11 C596.29,246.62 594.5,241.99 592.87,238.95 C591.24,235.92 588.47,233.64 587.18,231.89 C585.89,230.15 583.95,229.16 585.13,228.48Z" fill="#4a4a4a"/><g clip-path="url(#lc11)"><rect x="578.12" y="225.79" width="30.42" height="75.51" filter="url(#blot)" opacity="0.35"/><rect x="578.12" y="225.79" width="30.42" height="75.51" filter="url(#spk2)" opacity="0.3"/></g><circle cx="584.4" cy="291.5" r="2.5" fill="#151515"/><circle cx="592.1" cy="286" r="1.8" fill="#151515"/><circle cx="592.3" cy="293.8" r="2.8" fill="#f2f2f2"/><circle cx="519.8" cy="302.6" r="1.4" fill="#151515"/><circle cx="528.7" cy="301.4" r="1.9" fill="#151515"/><ellipse cx="537" cy="296" rx="2.5" ry="4" fill="#d8d8d8" opacity="0.8"/><ellipse cx="556.43" cy="314.79" rx="6.5" ry="7" fill="#f6f6f6"/><ellipse cx="556.43" cy="221.42" rx="9" ry="3" fill="#f3f3f3"/><line x1="525.7" y1="305.5" x2="525.7" y2="312.7" stroke="#000" stroke-width="1.5"/><line x1="528.82" y1="307.3" x2="522.58" y2="310.9" stroke="#000" stroke-width="1.5"/><line x1="528.82" y1="310.9" x2="522.58" y2="307.3" stroke="#000" stroke-width="1.5"/><line x1="606.1" y1="309" x2="606.1" y2="316.2" stroke="#000" stroke-width="1.5"/><line x1="609.22" y1="310.8" x2="602.98" y2="314.4" stroke="#000" stroke-width="1.5"/><line x1="609.22" y1="314.4" x2="602.98" y2="310.8" stroke="#000" stroke-width="1.5"/></g><rect x="479.5" y="218.4" width="155.2" height="115.1" fill="none" stroke="#3a3a3a" stroke-width="1"/><rect x="600.6" y="218.4" width="34.1" height="28.9" fill="#fff" stroke="#1e1e1e" stroke-width="1"/><path d="M613.73,221.87 C614.69,221.63 614.84,222.45 615.26,223.31 C615.69,224.18 616.12,225.24 616.29,227.07 C616.46,228.9 616.37,231.98 616.29,234.3 C616.2,236.61 616,239.5 615.77,240.94 C615.55,242.39 616.77,242.29 614.92,242.97 C613.07,243.64 606.34,245.95 604.69,244.99 C603.04,244.02 604.69,239.69 605.03,237.19 C605.37,234.68 606,232.03 606.74,229.96 C607.48,227.89 608.3,226.11 609.47,224.76 C610.63,223.41 612.76,222.11 613.73,221.87Z" fill="#fccacd" stroke="#f0a3ab" stroke-width="0.4"/><path d="M619.87,221.87 C620.29,221.19 621.15,222.3 622.08,223.02 C623.02,223.75 624.41,224.81 625.49,226.2 C626.57,227.6 627.79,229.43 628.56,231.41 C629.33,233.38 629.67,235.79 630.1,238.05 C630.52,240.32 632.28,244.17 631.12,244.99 C629.95,245.81 624.95,243.54 623.11,242.97 C621.26,242.39 620.58,243.21 620.04,241.52 C619.5,239.83 619.95,235.26 619.87,232.85 C619.78,230.44 619.53,228.9 619.53,227.07 C619.53,225.24 619.44,222.54 619.87,221.87Z" fill="#fccacd" stroke="#f0a3ab" stroke-width="0.4"/><rect x="614.24" y="223.89" width="1.36" height="2.6" rx="0.6" fill="#c85a66" opacity="0.6"/><rect x="619.87" y="223.6" width="1.36" height="2.6" rx="0.6" fill="#c85a66" opacity="0.6"/><rect x="620.04" y="236.32" width="1.71" height="4.91" rx="0.6" fill="#c85a66" opacity="0.6"/><polyline points="616.63,232.85 612.19,234.3 609.47,238.63" fill="none" stroke="#a9a3dc" stroke-width="0.7"/><polyline points="612.19,234.3 611.51,228.52" fill="none" stroke="#a9a3dc" stroke-width="0.7"/><polyline points="612.19,234.3 612.88,241.52" fill="none" stroke="#a9a3dc" stroke-width="0.7"/><polyline points="618.67,232.85 623.11,234.3 625.83,238.63" fill="none" stroke="#a9a3dc" stroke-width="0.7"/><polyline points="623.11,234.3 623.79,228.52" fill="none" stroke="#a9a3dc" stroke-width="0.7"/><polyline points="623.11,234.3 622.42,241.52" fill="none" stroke="#a9a3dc" stroke-width="0.7"/><line x1="617.65" y1="220.13" x2="617.65" y2="232.27" stroke="#6f8fc6" stroke-width="1.9"/><polygon points="604.69,235.16 631.29,235.16 632.31,237.47 603.67,237.47" fill="#888" opacity="0.55"/><line x1="604.01" y1="237.32" x2="631.97" y2="237.32" stroke="#222" stroke-width="0.9"/>
<text x="-0.6" y="356.3" font-size="15" text-anchor="start" fill="#1a1a1a" >c</text>
<text x="57.8" y="362.5" font-size="12.3" text-anchor="start" fill="#1a1a1a" >virus isolation</text>
<line x1="55.2" y1="366.6" x2="55.2" y2="409.5" stroke="#2b2b2b" stroke-width="1.1" />
<line x1="48.2" y1="367" x2="55.2" y2="367" stroke="#2b2b2b" stroke-width="1.1" />
<line x1="48.2" y1="395.2" x2="55.2" y2="395.2" stroke="#2b2b2b" stroke-width="1.1" />
<text x="47.4" y="370.3" font-size="9.4" text-anchor="end" fill="#1a1a1a" >positive</text>
<text x="47.4" y="398.5" font-size="9.6" text-anchor="end" fill="#1a1a1a" >negative</text>
<line x1="55.2" y1="409.5" x2="547.63" y2="409.5" stroke="#2b2b2b" stroke-width="1.1" />
<path d="M55.15 409.5v7.1M59.34 409.5v3.5M63.53 409.5v3.5M67.72 409.5v3.5M71.9 409.5v3.5M76.09 409.5v7.1M80.28 409.5v3.5M84.46 409.5v3.5M88.65 409.5v3.5M92.84 409.5v3.5M97.02 409.5v7.1M101.21 409.5v3.5M105.4 409.5v3.5M109.59 409.5v3.5M113.77 409.5v3.5M117.96 409.5v7.1M122.15 409.5v3.5M126.33 409.5v3.5M130.52 409.5v3.5M134.71 409.5v3.5M138.89 409.5v7.1M143.08 409.5v3.5M147.27 409.5v3.5M151.46 409.5v3.5M155.64 409.5v3.5M159.83 409.5v7.1M164.02 409.5v3.5M168.2 409.5v3.5M172.39 409.5v3.5M176.58 409.5v3.5M180.76 409.5v7.1M184.95 409.5v3.5M189.14 409.5v3.5M193.33 409.5v3.5M197.51 409.5v3.5M201.7 409.5v7.1M205.89 409.5v3.5M210.07 409.5v3.5M214.26 409.5v3.5M218.45 409.5v3.5M222.63 409.5v7.1M226.82 409.5v3.5M231.01 409.5v3.5M235.2 409.5v3.5M239.38 409.5v3.5M243.57 409.5v7.1M247.76 409.5v3.5M251.94 409.5v3.5M256.13 409.5v3.5M260.32 409.5v3.5M264.5 409.5v7.1M268.69 409.5v3.5M272.88 409.5v3.5M277.07 409.5v3.5M281.25 409.5v3.5M285.44 409.5v7.1M289.63 409.5v3.5M293.81 409.5v3.5M298 409.5v3.5M302.19 409.5v3.5M306.38 409.5v7.1M310.56 409.5v3.5M314.75 409.5v3.5M318.94 409.5v3.5M323.12 409.5v3.5M327.31 409.5v7.1M331.5 409.5v3.5M335.68 409.5v3.5M339.87 409.5v3.5M344.06 409.5v3.5M348.25 409.5v7.1M352.43 409.5v3.5M356.62 409.5v3.5M360.81 409.5v3.5M364.99 409.5v3.5M369.18 409.5v7.1M373.37 409.5v3.5M377.55 409.5v3.5M381.74 409.5v3.5M385.93 409.5v3.5M390.12 409.5v7.1M394.3 409.5v3.5M398.49 409.5v3.5M402.68 409.5v3.5M406.86 409.5v3.5M411.05 409.5v7.1M415.24 409.5v3.5M419.42 409.5v3.5M423.61 409.5v3.5M427.8 409.5v3.5M431.99 409.5v7.1M436.17 409.5v3.5M440.36 409.5v3.5M444.55 409.5v3.5M448.73 409.5v3.5M452.92 409.5v7.1M457.11 409.5v3.5M461.29 409.5v3.5M465.48 409.5v3.5M469.67 409.5v3.5M473.86 409.5v7.1M478.04 409.5v3.5M482.23 409.5v3.5M486.42 409.5v3.5M490.6 409.5v3.5M494.79 409.5v7.1M498.98 409.5v3.5M503.16 409.5v3.5M507.35 409.5v3.5M511.54 409.5v3.5M515.73 409.5v7.1M519.91 409.5v3.5M524.1 409.5v3.5M528.29 409.5v3.5M532.47 409.5v3.5M536.66 409.5v7.1M540.85 409.5v3.5M545.03 409.5v3.5" stroke="#2b2b2b" stroke-width="1" fill="none"/>
<text transform="translate(55.15,428.3) scale(0.92,1)" font-size="10.3" text-anchor="middle" fill="#1a1a1a">-70</text>
<text transform="translate(76.09,428.3) scale(0.92,1)" font-size="10.3" text-anchor="middle" fill="#1a1a1a">-60</text>
<text transform="translate(97.02,428.3) scale(0.92,1)" font-size="10.3" text-anchor="middle" fill="#1a1a1a">-50</text>
<text transform="translate(117.96,428.3) scale(0.92,1)" font-size="10.3" text-anchor="middle" fill="#1a1a1a">-40</text>
<text transform="translate(138.89,428.3) scale(0.92,1)" font-size="10.3" text-anchor="middle" fill="#1a1a1a">-30</text>
<text transform="translate(159.83,428.3) scale(0.92,1)" font-size="10.3" text-anchor="middle" fill="#1a1a1a">-20</text>
<text transform="translate(180.76,428.3) scale(0.92,1)" font-size="10.3" text-anchor="middle" fill="#1a1a1a">-10</text>
<text transform="translate(201.7,428.3) scale(0.92,1)" font-size="10.3" text-anchor="middle" fill="#1a1a1a">0</text>
<text transform="translate(222.63,428.3) scale(0.92,1)" font-size="10.3" text-anchor="middle" fill="#1a1a1a">10</text>
<text transform="translate(243.57,428.3) scale(0.92,1)" font-size="10.3" text-anchor="middle" fill="#1a1a1a">20</text>
<text transform="translate(264.5,428.3) scale(0.92,1)" font-size="10.3" text-anchor="middle" fill="#1a1a1a">30</text>
<text transform="translate(285.44,428.3) scale(0.92,1)" font-size="10.3" text-anchor="middle" fill="#1a1a1a">40</text>
<text transform="translate(306.38,428.3) scale(0.92,1)" font-size="10.3" text-anchor="middle" fill="#1a1a1a">50</text>
<text transform="translate(327.31,428.3) scale(0.92,1)" font-size="10.3" text-anchor="middle" fill="#1a1a1a">60</text>
<text transform="translate(348.25,428.3) scale(0.92,1)" font-size="10.3" text-anchor="middle" fill="#1a1a1a">70</text>
<text transform="translate(369.18,428.3) scale(0.92,1)" font-size="10.3" text-anchor="middle" fill="#1a1a1a">80</text>
<text transform="translate(390.12,428.3) scale(0.92,1)" font-size="10.3" text-anchor="middle" fill="#1a1a1a">90</text>
<text transform="translate(411.05,428.3) scale(0.92,1)" font-size="10.3" text-anchor="middle" fill="#1a1a1a">100</text>
<text transform="translate(431.99,428.3) scale(0.92,1)" font-size="10.3" text-anchor="middle" fill="#1a1a1a">110</text>
<text transform="translate(452.92,428.3) scale(0.92,1)" font-size="10.3" text-anchor="middle" fill="#1a1a1a">120</text>
<text transform="translate(473.86,428.3) scale(0.92,1)" font-size="10.3" text-anchor="middle" fill="#1a1a1a">130</text>
<text transform="translate(494.79,428.3) scale(0.92,1)" font-size="10.3" text-anchor="middle" fill="#1a1a1a">140</text>
<text transform="translate(515.73,428.3) scale(0.92,1)" font-size="10.3" text-anchor="middle" fill="#1a1a1a">150</text>
<text transform="translate(536.66,428.3) scale(0.92,1)" font-size="10.3" text-anchor="middle" fill="#1a1a1a">160</text>
<text x="302.2" y="446.1" font-size="12.8" text-anchor="middle" fill="#1a1a1a" >days pre and post lung transplantation</text>
<rect x="199.96" y="393.3" width="4.6" height="4.6" fill="#a4a4a4" stroke="#555" stroke-width="0.7"/>
<rect x="201.63" y="393.3" width="4.6" height="4.6" fill="#a4a4a4" stroke="#555" stroke-width="0.7"/>
<rect x="203.31" y="393.3" width="4.6" height="4.6" fill="#a4a4a4" stroke="#555" stroke-width="0.7"/>
<rect x="253.34" y="393.3" width="4.6" height="4.6" fill="#a4a4a4" stroke="#555" stroke-width="0.7"/>
<rect x="266.32" y="393.3" width="4.6" height="4.6" fill="#a4a4a4" stroke="#555" stroke-width="0.7"/>
<rect x="297.93" y="393.3" width="4.6" height="4.6" fill="#a4a4a4" stroke="#555" stroke-width="0.7"/>
<rect x="314.68" y="393.3" width="4.6" height="4.6" fill="#a4a4a4" stroke="#555" stroke-width="0.7"/>
<rect x="325.15" y="393.3" width="4.6" height="4.6" fill="#a4a4a4" stroke="#555" stroke-width="0.7"/>
<rect x="358.43" y="393.3" width="4.6" height="4.6" fill="#a4a4a4" stroke="#555" stroke-width="0.7"/>
<rect x="377.48" y="393.3" width="4.6" height="4.6" fill="#a4a4a4" stroke="#555" stroke-width="0.7"/>
<rect x="390.05" y="393.3" width="4.6" height="4.6" fill="#a4a4a4" stroke="#555" stroke-width="0.7"/>
<rect x="400.51" y="393.3" width="4.6" height="4.6" fill="#a4a4a4" stroke="#555" stroke-width="0.7"/>
<rect x="408.89" y="393.3" width="4.6" height="4.6" fill="#a4a4a4" stroke="#555" stroke-width="0.7"/>
<circle cx="210.21" cy="395.6" r="2.6" fill="#5a4fc2" stroke="#333" stroke-width="0.6"/>
<circle cx="375.6" cy="367.5" r="2.6" fill="#5a4fc2" stroke="#333" stroke-width="0.6"/>
<circle cx="417.47" cy="367.5" r="2.6" fill="#5a4fc2" stroke="#333" stroke-width="0.6"/>
<circle cx="434.43" cy="367.5" r="2.6" fill="#5a4fc2" stroke="#333" stroke-width="0.6"/>
<circle cx="497.02" cy="367.5" r="2.6" fill="#5a4fc2" stroke="#333" stroke-width="0.6"/>
<rect x="564.9" y="366.8" width="4.6" height="4.6" fill="#a4a4a4" stroke="#555" stroke-width="0.7"/>
<circle cx="567.2" cy="383.7" r="2.4" fill="#5a4fc2" stroke="#333" stroke-width="0.6"/>
<text x="583" y="372.6" font-size="10" text-anchor="start" fill="#1a1a1a" >swab</text>
<text x="583" y="387.2" font-size="10" text-anchor="start" fill="#1a1a1a" >BAL</text>
<text x="-0.6" y="479.5" font-size="15" text-anchor="start" fill="#1a1a1a" >d</text>
<text x="58.1" y="483.4" font-size="12.3" text-anchor="start" fill="#1a1a1a" >mAbs</text>
<line x1="201" y1="482.5" x2="201" y2="507.3" stroke="#f7836a" stroke-width="1.8" stroke-dasharray="1.6 2.4"/>
<line x1="54.45" y1="497.5" x2="54.45" y2="507.3" stroke="#d0d0d0" stroke-width="1.7" />
<line x1="83.76" y1="497.5" x2="83.76" y2="507.3" stroke="#d0d0d0" stroke-width="1.7" />
<line x1="177.97" y1="497.5" x2="177.97" y2="507.3" stroke="#d79a9a" stroke-width="1.7" />
<line x1="209.37" y1="497.5" x2="209.37" y2="507.3" stroke="#fbbb80" stroke-width="1.7" />
<line x1="54.45" y1="507.3" x2="546.43" y2="507.3" stroke="#2b2b2b" stroke-width="1.1" />
<path d="M54.45 507.3v7.1M58.64 507.3v3.5M62.83 507.3v3.5M67.02 507.3v3.5M71.2 507.3v3.5M75.39 507.3v7.1M79.58 507.3v3.5M83.76 507.3v3.5M87.95 507.3v3.5M92.14 507.3v3.5M96.32 507.3v7.1M100.51 507.3v3.5M104.7 507.3v3.5M108.89 507.3v3.5M113.07 507.3v3.5M117.26 507.3v7.1M121.45 507.3v3.5M125.63 507.3v3.5M129.82 507.3v3.5M134.01 507.3v3.5M138.19 507.3v7.1M142.38 507.3v3.5M146.57 507.3v3.5M150.76 507.3v3.5M154.94 507.3v3.5M159.13 507.3v7.1M163.32 507.3v3.5M167.5 507.3v3.5M171.69 507.3v3.5M175.88 507.3v3.5M180.06 507.3v7.1M184.25 507.3v3.5M188.44 507.3v3.5M192.63 507.3v3.5M196.81 507.3v3.5M201 507.3v7.1M205.19 507.3v3.5M209.37 507.3v3.5M213.56 507.3v3.5M217.75 507.3v3.5M221.94 507.3v7.1M226.12 507.3v3.5M230.31 507.3v3.5M234.5 507.3v3.5M238.68 507.3v3.5M242.87 507.3v7.1M247.06 507.3v3.5M251.24 507.3v3.5M255.43 507.3v3.5M259.62 507.3v3.5M263.81 507.3v7.1M267.99 507.3v3.5M272.18 507.3v3.5M276.37 507.3v3.5M280.55 507.3v3.5M284.74 507.3v7.1M288.93 507.3v3.5M293.11 507.3v3.5M297.3 507.3v3.5M301.49 507.3v3.5M305.68 507.3v7.1M309.86 507.3v3.5M314.05 507.3v3.5M318.24 507.3v3.5M322.42 507.3v3.5M326.61 507.3v7.1M330.8 507.3v3.5M334.98 507.3v3.5M339.17 507.3v3.5M343.36 507.3v3.5M347.55 507.3v7.1M351.73 507.3v3.5M355.92 507.3v3.5M360.11 507.3v3.5M364.29 507.3v3.5M368.48 507.3v7.1M372.67 507.3v3.5M376.85 507.3v3.5M381.04 507.3v3.5M385.23 507.3v3.5M389.42 507.3v7.1M393.6 507.3v3.5M397.79 507.3v3.5M401.98 507.3v3.5M406.16 507.3v3.5M410.35 507.3v7.1M414.54 507.3v3.5M418.72 507.3v3.5M422.91 507.3v3.5M427.1 507.3v3.5M431.29 507.3v7.1M435.47 507.3v3.5M439.66 507.3v3.5M443.85 507.3v3.5M448.03 507.3v3.5M452.22 507.3v7.1M456.41 507.3v3.5M460.59 507.3v3.5M464.78 507.3v3.5M468.97 507.3v3.5M473.16 507.3v7.1M477.34 507.3v3.5M481.53 507.3v3.5M485.72 507.3v3.5M489.9 507.3v3.5M494.09 507.3v7.1M498.28 507.3v3.5M502.46 507.3v3.5M506.65 507.3v3.5M510.84 507.3v3.5M515.03 507.3v7.1M519.21 507.3v3.5M523.4 507.3v3.5M527.59 507.3v3.5M531.77 507.3v3.5M535.96 507.3v7.1M540.15 507.3v3.5M544.33 507.3v3.5" stroke="#2b2b2b" stroke-width="1" fill="none"/>
<text transform="translate(54.45,527) scale(0.92,1)" font-size="10.3" text-anchor="middle" fill="#1a1a1a">-70</text>
<text transform="translate(75.39,527) scale(0.92,1)" font-size="10.3" text-anchor="middle" fill="#1a1a1a">-60</text>
<text transform="translate(96.32,527) scale(0.92,1)" font-size="10.3" text-anchor="middle" fill="#1a1a1a">-50</text>
<text transform="translate(117.26,527) scale(0.92,1)" font-size="10.3" text-anchor="middle" fill="#1a1a1a">-40</text>
<text transform="translate(138.19,527) scale(0.92,1)" font-size="10.3" text-anchor="middle" fill="#1a1a1a">-30</text>
<text transform="translate(159.13,527) scale(0.92,1)" font-size="10.3" text-anchor="middle" fill="#1a1a1a">-20</text>
<text transform="translate(180.06,527) scale(0.92,1)" font-size="10.3" text-anchor="middle" fill="#1a1a1a">-10</text>
<text transform="translate(201,527) scale(0.92,1)" font-size="10.3" text-anchor="middle" fill="#1a1a1a">0</text>
<text transform="translate(221.94,527) scale(0.92,1)" font-size="10.3" text-anchor="middle" fill="#1a1a1a">10</text>
<text transform="translate(242.87,527) scale(0.92,1)" font-size="10.3" text-anchor="middle" fill="#1a1a1a">20</text>
<text transform="translate(263.81,527) scale(0.92,1)" font-size="10.3" text-anchor="middle" fill="#1a1a1a">30</text>
<text transform="translate(284.74,527) scale(0.92,1)" font-size="10.3" text-anchor="middle" fill="#1a1a1a">40</text>
<text transform="translate(305.68,527) scale(0.92,1)" font-size="10.3" text-anchor="middle" fill="#1a1a1a">50</text>
<text transform="translate(326.61,527) scale(0.92,1)" font-size="10.3" text-anchor="middle" fill="#1a1a1a">60</text>
<text transform="translate(347.55,527) scale(0.92,1)" font-size="10.3" text-anchor="middle" fill="#1a1a1a">70</text>
<text transform="translate(368.48,527) scale(0.92,1)" font-size="10.3" text-anchor="middle" fill="#1a1a1a">80</text>
<text transform="translate(389.42,527) scale(0.92,1)" font-size="10.3" text-anchor="middle" fill="#1a1a1a">90</text>
<text transform="translate(410.35,527) scale(0.92,1)" font-size="10.3" text-anchor="middle" fill="#1a1a1a">100</text>
<text transform="translate(431.29,527) scale(0.92,1)" font-size="10.3" text-anchor="middle" fill="#1a1a1a">110</text>
<text transform="translate(452.22,527) scale(0.92,1)" font-size="10.3" text-anchor="middle" fill="#1a1a1a">120</text>
<text transform="translate(473.16,527) scale(0.92,1)" font-size="10.3" text-anchor="middle" fill="#1a1a1a">130</text>
<text transform="translate(494.09,527) scale(0.92,1)" font-size="10.3" text-anchor="middle" fill="#1a1a1a">140</text>
<text transform="translate(515.03,527) scale(0.92,1)" font-size="10.3" text-anchor="middle" fill="#1a1a1a">150</text>
<text transform="translate(535.96,527) scale(0.92,1)" font-size="10.3" text-anchor="middle" fill="#1a1a1a">160</text>
<circle cx="54.45" cy="495" r="2.7" fill="#111" stroke="#2a2a2a" stroke-width="0.7"/>
<circle cx="83.76" cy="495" r="2.7" fill="#111" stroke="#2a2a2a" stroke-width="0.7"/>
<circle cx="177.97" cy="495" r="2.7" fill="#8b1a1a" stroke="#2a2a2a" stroke-width="0.7"/>
<circle cx="201" cy="495" r="2.7" fill="#ec7a0c" stroke="#2a2a2a" stroke-width="0.7"/>
<circle cx="209.37" cy="495" r="2.7" fill="#ec7a0c" stroke="#2a2a2a" stroke-width="0.7"/>
<circle cx="566.5" cy="464" r="2" fill="#111" stroke="#333" stroke-width="0.4"/>
<circle cx="566.5" cy="480" r="2" fill="#9a1e1a" stroke="#333" stroke-width="0.4"/>
<circle cx="566.5" cy="496.1" r="2" fill="#ec7a0c" stroke="#333" stroke-width="0.4"/>
<line x1="566.5" y1="507.6" x2="566.5" y2="520.5" stroke="#f7836a" stroke-width="1.8" stroke-dasharray="1.6 2.4"/>
<text x="581.7" y="467.6" font-size="10" text-anchor="start" fill="#1a1a1a" textLength="44.1" lengthAdjust="spacingAndGlyphs">rituximab</text>
<text x="581.7" y="483.6" font-size="10" text-anchor="start" fill="#1a1a1a" textLength="54.1" lengthAdjust="spacingAndGlyphs">tocilizumab</text>
<text x="581.7" y="499.7" font-size="10" text-anchor="start" fill="#1a1a1a" textLength="54.1" lengthAdjust="spacingAndGlyphs">basiliximab</text>
<text x="581.7" y="516.3" font-size="10" text-anchor="start" fill="#1a1a1a" >transplantation</text>
<text x="57.3" y="546.8" font-size="12.3" text-anchor="start" fill="#1a1a1a" >prednisolone</text>
<path d="M54.45,569.19 L173.16,569.19 L173.16,553.75 L179.23,553.75 L179.23,538.09 L206.65,538.09 L206.65,549.21 L252.92,549.21 L252.92,558.03 L267.57,558.03 L267.57,560.63 L384.81,560.63 L384.81,562.57 L408.26,562.57 L408.26,564.78 L543.92,564.78 L543.92,566.11 L546.43,566.11 L546.43,571.4 L54.45,571.4 Z" fill="#dedada" stroke="none"/>
<path d="M54.45,569.19 L173.16,569.19 L173.16,553.75 L179.23,553.75 L179.23,538.09 L206.65,538.09 L206.65,549.21 L252.92,549.21 L252.92,558.03 L267.57,558.03 L267.57,560.63 L384.81,560.63 L384.81,562.57 L408.26,562.57 L408.26,564.78 L543.92,564.78 L543.92,566.11 L546.43,566.11" fill="none" stroke="#1e1e1e" stroke-width="1.3" stroke-linejoin="miter"/>
<line x1="201" y1="536.3" x2="201" y2="571" stroke="#f7836a" stroke-width="1.8" stroke-dasharray="1.6 2.4"/>
<line x1="54" y1="536.1" x2="54" y2="571.9" stroke="#2b2b2b" stroke-width="1.1" />
<line x1="47.5" y1="571.4" x2="54" y2="571.4" stroke="#2b2b2b" stroke-width="1.1" />
<text transform="translate(45.7,575) scale(0.94,1)" font-size="10.2" text-anchor="end" fill="#1a1a1a">0</text>
<line x1="47.5" y1="562.57" x2="54" y2="562.57" stroke="#2b2b2b" stroke-width="1.1" />
<text transform="translate(45.7,566.17) scale(0.94,1)" font-size="10.2" text-anchor="end" fill="#1a1a1a">20</text>
<line x1="47.5" y1="553.75" x2="54" y2="553.75" stroke="#2b2b2b" stroke-width="1.1" />
<text transform="translate(45.7,557.35) scale(0.94,1)" font-size="10.2" text-anchor="end" fill="#1a1a1a">40</text>
<line x1="47.5" y1="544.92" x2="54" y2="544.92" stroke="#2b2b2b" stroke-width="1.1" />
<text transform="translate(45.7,548.52) scale(0.94,1)" font-size="10.2" text-anchor="end" fill="#1a1a1a">60</text>
<line x1="47.5" y1="536.1" x2="54" y2="536.1" stroke="#2b2b2b" stroke-width="1.1" />
<text transform="translate(45.7,539.7) scale(0.94,1)" font-size="10.2" text-anchor="end" fill="#1a1a1a">80</text>
<line x1="54" y1="571.4" x2="546.43" y2="571.4" stroke="#2b2b2b" stroke-width="1.1" />
<path d="M54.45 571.4v7.1M58.64 571.4v3.5M62.83 571.4v3.5M67.02 571.4v3.5M71.2 571.4v3.5M75.39 571.4v7.1M79.58 571.4v3.5M83.76 571.4v3.5M87.95 571.4v3.5M92.14 571.4v3.5M96.32 571.4v7.1M100.51 571.4v3.5M104.7 571.4v3.5M108.89 571.4v3.5M113.07 571.4v3.5M117.26 571.4v7.1M121.45 571.4v3.5M125.63 571.4v3.5M129.82 571.4v3.5M134.01 571.4v3.5M138.19 571.4v7.1M142.38 571.4v3.5M146.57 571.4v3.5M150.76 571.4v3.5M154.94 571.4v3.5M159.13 571.4v7.1M163.32 571.4v3.5M167.5 571.4v3.5M171.69 571.4v3.5M175.88 571.4v3.5M180.06 571.4v7.1M184.25 571.4v3.5M188.44 571.4v3.5M192.63 571.4v3.5M196.81 571.4v3.5M201 571.4v7.1M205.19 571.4v3.5M209.37 571.4v3.5M213.56 571.4v3.5M217.75 571.4v3.5M221.94 571.4v7.1M226.12 571.4v3.5M230.31 571.4v3.5M234.5 571.4v3.5M238.68 571.4v3.5M242.87 571.4v7.1M247.06 571.4v3.5M251.24 571.4v3.5M255.43 571.4v3.5M259.62 571.4v3.5M263.81 571.4v7.1M267.99 571.4v3.5M272.18 571.4v3.5M276.37 571.4v3.5M280.55 571.4v3.5M284.74 571.4v7.1M288.93 571.4v3.5M293.11 571.4v3.5M297.3 571.4v3.5M301.49 571.4v3.5M305.68 571.4v7.1M309.86 571.4v3.5M314.05 571.4v3.5M318.24 571.4v3.5M322.42 571.4v3.5M326.61 571.4v7.1M330.8 571.4v3.5M334.98 571.4v3.5M339.17 571.4v3.5M343.36 571.4v3.5M347.55 571.4v7.1M351.73 571.4v3.5M355.92 571.4v3.5M360.11 571.4v3.5M364.29 571.4v3.5M368.48 571.4v7.1M372.67 571.4v3.5M376.85 571.4v3.5M381.04 571.4v3.5M385.23 571.4v3.5M389.42 571.4v7.1M393.6 571.4v3.5M397.79 571.4v3.5M401.98 571.4v3.5M406.16 571.4v3.5M410.35 571.4v7.1M414.54 571.4v3.5M418.72 571.4v3.5M422.91 571.4v3.5M427.1 571.4v3.5M431.29 571.4v7.1M435.47 571.4v3.5M439.66 571.4v3.5M443.85 571.4v3.5M448.03 571.4v3.5M452.22 571.4v7.1M456.41 571.4v3.5M460.59 571.4v3.5M464.78 571.4v3.5M468.97 571.4v3.5M473.16 571.4v7.1M477.34 571.4v3.5M481.53 571.4v3.5M485.72 571.4v3.5M489.9 571.4v3.5M494.09 571.4v7.1M498.28 571.4v3.5M502.46 571.4v3.5M506.65 571.4v3.5M510.84 571.4v3.5M515.03 571.4v7.1M519.21 571.4v3.5M523.4 571.4v3.5M527.59 571.4v3.5M531.77 571.4v3.5M535.96 571.4v7.1M540.15 571.4v3.5M544.33 571.4v3.5" stroke="#2b2b2b" stroke-width="1" fill="none"/>
<text transform="translate(54.45,590) scale(0.92,1)" font-size="10.3" text-anchor="middle" fill="#1a1a1a">-70</text>
<text transform="translate(75.39,590) scale(0.92,1)" font-size="10.3" text-anchor="middle" fill="#1a1a1a">-60</text>
<text transform="translate(96.32,590) scale(0.92,1)" font-size="10.3" text-anchor="middle" fill="#1a1a1a">-50</text>
<text transform="translate(117.26,590) scale(0.92,1)" font-size="10.3" text-anchor="middle" fill="#1a1a1a">-40</text>
<text transform="translate(138.19,590) scale(0.92,1)" font-size="10.3" text-anchor="middle" fill="#1a1a1a">-30</text>
<text transform="translate(159.13,590) scale(0.92,1)" font-size="10.3" text-anchor="middle" fill="#1a1a1a">-20</text>
<text transform="translate(180.06,590) scale(0.92,1)" font-size="10.3" text-anchor="middle" fill="#1a1a1a">-10</text>
<text transform="translate(201,590) scale(0.92,1)" font-size="10.3" text-anchor="middle" fill="#1a1a1a">0</text>
<text transform="translate(221.94,590) scale(0.92,1)" font-size="10.3" text-anchor="middle" fill="#1a1a1a">10</text>
<text transform="translate(242.87,590) scale(0.92,1)" font-size="10.3" text-anchor="middle" fill="#1a1a1a">20</text>
<text transform="translate(263.81,590) scale(0.92,1)" font-size="10.3" text-anchor="middle" fill="#1a1a1a">30</text>
<text transform="translate(284.74,590) scale(0.92,1)" font-size="10.3" text-anchor="middle" fill="#1a1a1a">40</text>
<text transform="translate(305.68,590) scale(0.92,1)" font-size="10.3" text-anchor="middle" fill="#1a1a1a">50</text>
<text transform="translate(326.61,590) scale(0.92,1)" font-size="10.3" text-anchor="middle" fill="#1a1a1a">60</text>
<text transform="translate(347.55,590) scale(0.92,1)" font-size="10.3" text-anchor="middle" fill="#1a1a1a">70</text>
<text transform="translate(368.48,590) scale(0.92,1)" font-size="10.3" text-anchor="middle" fill="#1a1a1a">80</text>
<text transform="translate(389.42,590) scale(0.92,1)" font-size="10.3" text-anchor="middle" fill="#1a1a1a">90</text>
<text transform="translate(410.35,590) scale(0.92,1)" font-size="10.3" text-anchor="middle" fill="#1a1a1a">100</text>
<text transform="translate(431.29,590) scale(0.92,1)" font-size="10.3" text-anchor="middle" fill="#1a1a1a">110</text>
<text transform="translate(452.22,590) scale(0.92,1)" font-size="10.3" text-anchor="middle" fill="#1a1a1a">120</text>
<text transform="translate(473.16,590) scale(0.92,1)" font-size="10.3" text-anchor="middle" fill="#1a1a1a">130</text>
<text transform="translate(494.09,590) scale(0.92,1)" font-size="10.3" text-anchor="middle" fill="#1a1a1a">140</text>
<text transform="translate(515.03,590) scale(0.92,1)" font-size="10.3" text-anchor="middle" fill="#1a1a1a">150</text>
<text transform="translate(535.96,590) scale(0.92,1)" font-size="10.3" text-anchor="middle" fill="#1a1a1a">160</text>
<text x="56.8" y="603.1" font-size="12.3" text-anchor="start" fill="#1a1a1a" textLength="118.2" lengthAdjust="spacingAndGlyphs">mycophenolat mofetil</text>
<path d="M54.45,611.95 L99.47,611.95 L99.47,629.4 L201,629.4 L201,603.23 L253.13,603.23 L253.13,616.31 L255.85,616.31 L255.85,603.23 L267.36,603.23 L267.36,616.31 L269.46,616.31 L269.46,629.4 L271.13,629.4 L271.13,625.04 L280.55,625.04 L280.55,629.4 L282.23,629.4 L282.23,625.04 L297.09,625.04 L297.09,629.4 L298.77,629.4 L298.77,625.04 L313.21,625.04 L313.21,620.67 L378.11,620.67 L378.11,624.6 L380.2,624.6 L380.2,629.4 L447.4,629.4 L447.4,620.67 L485.3,620.67 L485.3,625.04 L487.39,625.04 L487.39,620.67 L499.95,620.67 L499.95,622.86 L502.05,622.86 L502.05,625.04 L544.33,625.04 L544.33,629.4 L546.43,629.4 L546.43,629.4 L54.45,629.4 Z" fill="#dedada" stroke="none"/>
<path d="M54.45,611.95 L99.47,611.95 L99.47,629.4 L201,629.4 L201,603.23 L253.13,603.23 L253.13,616.31 L255.85,616.31 L255.85,603.23 L267.36,603.23 L267.36,616.31 L269.46,616.31 L269.46,629.4 L271.13,629.4 L271.13,625.04 L280.55,625.04 L280.55,629.4 L282.23,629.4 L282.23,625.04 L297.09,625.04 L297.09,629.4 L298.77,629.4 L298.77,625.04 L313.21,625.04 L313.21,620.67 L378.11,620.67 L378.11,624.6 L380.2,624.6 L380.2,629.4 L447.4,629.4 L447.4,620.67 L485.3,620.67 L485.3,625.04 L487.39,625.04 L487.39,620.67 L499.95,620.67 L499.95,622.86 L502.05,622.86 L502.05,625.04 L544.33,625.04 L544.33,629.4 L546.43,629.4" fill="none" stroke="#1e1e1e" stroke-width="1.3" stroke-linejoin="miter"/>
<line x1="201" y1="594.6" x2="201" y2="629" stroke="#f7836a" stroke-width="1.8" stroke-dasharray="1.6 2.4"/>
<line x1="53.8" y1="594.5" x2="53.8" y2="629.9" stroke="#2b2b2b" stroke-width="1.1" />
<line x1="47.3" y1="629.4" x2="53.8" y2="629.4" stroke="#2b2b2b" stroke-width="1.1" />
<text transform="translate(45.5,633) scale(0.94,1)" font-size="10.2" text-anchor="end" fill="#1a1a1a">0</text>
<line x1="47.3" y1="620.67" x2="53.8" y2="620.67" stroke="#2b2b2b" stroke-width="1.1" />
<text transform="translate(45.5,624.27) scale(0.94,1)" font-size="10.2" text-anchor="end" fill="#1a1a1a">1</text>
<line x1="47.3" y1="611.95" x2="53.8" y2="611.95" stroke="#2b2b2b" stroke-width="1.1" />
<text transform="translate(45.5,615.55) scale(0.94,1)" font-size="10.2" text-anchor="end" fill="#1a1a1a">2</text>
<line x1="47.3" y1="603.23" x2="53.8" y2="603.23" stroke="#2b2b2b" stroke-width="1.1" />
<text transform="translate(45.5,606.83) scale(0.94,1)" font-size="10.2" text-anchor="end" fill="#1a1a1a">3</text>
<line x1="47.3" y1="594.5" x2="53.8" y2="594.5" stroke="#2b2b2b" stroke-width="1.1" />
<text transform="translate(45.5,598.1) scale(0.94,1)" font-size="10.2" text-anchor="end" fill="#1a1a1a">4</text>
<line x1="53.8" y1="629.4" x2="546.43" y2="629.4" stroke="#2b2b2b" stroke-width="1.1" />
<path d="M54.45 629.4v7.1M58.64 629.4v3.5M62.83 629.4v3.5M67.02 629.4v3.5M71.2 629.4v3.5M75.39 629.4v7.1M79.58 629.4v3.5M83.76 629.4v3.5M87.95 629.4v3.5M92.14 629.4v3.5M96.32 629.4v7.1M100.51 629.4v3.5M104.7 629.4v3.5M108.89 629.4v3.5M113.07 629.4v3.5M117.26 629.4v7.1M121.45 629.4v3.5M125.63 629.4v3.5M129.82 629.4v3.5M134.01 629.4v3.5M138.19 629.4v7.1M142.38 629.4v3.5M146.57 629.4v3.5M150.76 629.4v3.5M154.94 629.4v3.5M159.13 629.4v7.1M163.32 629.4v3.5M167.5 629.4v3.5M171.69 629.4v3.5M175.88 629.4v3.5M180.06 629.4v7.1M184.25 629.4v3.5M188.44 629.4v3.5M192.63 629.4v3.5M196.81 629.4v3.5M201 629.4v7.1M205.19 629.4v3.5M209.37 629.4v3.5M213.56 629.4v3.5M217.75 629.4v3.5M221.94 629.4v7.1M226.12 629.4v3.5M230.31 629.4v3.5M234.5 629.4v3.5M238.68 629.4v3.5M242.87 629.4v7.1M247.06 629.4v3.5M251.24 629.4v3.5M255.43 629.4v3.5M259.62 629.4v3.5M263.81 629.4v7.1M267.99 629.4v3.5M272.18 629.4v3.5M276.37 629.4v3.5M280.55 629.4v3.5M284.74 629.4v7.1M288.93 629.4v3.5M293.11 629.4v3.5M297.3 629.4v3.5M301.49 629.4v3.5M305.68 629.4v7.1M309.86 629.4v3.5M314.05 629.4v3.5M318.24 629.4v3.5M322.42 629.4v3.5M326.61 629.4v7.1M330.8 629.4v3.5M334.98 629.4v3.5M339.17 629.4v3.5M343.36 629.4v3.5M347.55 629.4v7.1M351.73 629.4v3.5M355.92 629.4v3.5M360.11 629.4v3.5M364.29 629.4v3.5M368.48 629.4v7.1M372.67 629.4v3.5M376.85 629.4v3.5M381.04 629.4v3.5M385.23 629.4v3.5M389.42 629.4v7.1M393.6 629.4v3.5M397.79 629.4v3.5M401.98 629.4v3.5M406.16 629.4v3.5M410.35 629.4v7.1M414.54 629.4v3.5M418.72 629.4v3.5M422.91 629.4v3.5M427.1 629.4v3.5M431.29 629.4v7.1M435.47 629.4v3.5M439.66 629.4v3.5M443.85 629.4v3.5M448.03 629.4v3.5M452.22 629.4v7.1M456.41 629.4v3.5M460.59 629.4v3.5M464.78 629.4v3.5M468.97 629.4v3.5M473.16 629.4v7.1M477.34 629.4v3.5M481.53 629.4v3.5M485.72 629.4v3.5M489.9 629.4v3.5M494.09 629.4v7.1M498.28 629.4v3.5M502.46 629.4v3.5M506.65 629.4v3.5M510.84 629.4v3.5M515.03 629.4v7.1M519.21 629.4v3.5M523.4 629.4v3.5M527.59 629.4v3.5M531.77 629.4v3.5M535.96 629.4v7.1M540.15 629.4v3.5M544.33 629.4v3.5" stroke="#2b2b2b" stroke-width="1" fill="none"/>
<text transform="translate(54.45,648.6) scale(0.92,1)" font-size="10.3" text-anchor="middle" fill="#1a1a1a">-70</text>
<text transform="translate(75.39,648.6) scale(0.92,1)" font-size="10.3" text-anchor="middle" fill="#1a1a1a">-60</text>
<text transform="translate(96.32,648.6) scale(0.92,1)" font-size="10.3" text-anchor="middle" fill="#1a1a1a">-50</text>
<text transform="translate(117.26,648.6) scale(0.92,1)" font-size="10.3" text-anchor="middle" fill="#1a1a1a">-40</text>
<text transform="translate(138.19,648.6) scale(0.92,1)" font-size="10.3" text-anchor="middle" fill="#1a1a1a">-30</text>
<text transform="translate(159.13,648.6) scale(0.92,1)" font-size="10.3" text-anchor="middle" fill="#1a1a1a">-20</text>
<text transform="translate(180.06,648.6) scale(0.92,1)" font-size="10.3" text-anchor="middle" fill="#1a1a1a">-10</text>
<text transform="translate(201,648.6) scale(0.92,1)" font-size="10.3" text-anchor="middle" fill="#1a1a1a">0</text>
<text transform="translate(221.94,648.6) scale(0.92,1)" font-size="10.3" text-anchor="middle" fill="#1a1a1a">10</text>
<text transform="translate(242.87,648.6) scale(0.92,1)" font-size="10.3" text-anchor="middle" fill="#1a1a1a">20</text>
<text transform="translate(263.81,648.6) scale(0.92,1)" font-size="10.3" text-anchor="middle" fill="#1a1a1a">30</text>
<text transform="translate(284.74,648.6) scale(0.92,1)" font-size="10.3" text-anchor="middle" fill="#1a1a1a">40</text>
<text transform="translate(305.68,648.6) scale(0.92,1)" font-size="10.3" text-anchor="middle" fill="#1a1a1a">50</text>
<text transform="translate(326.61,648.6) scale(0.92,1)" font-size="10.3" text-anchor="middle" fill="#1a1a1a">60</text>
<text transform="translate(347.55,648.6) scale(0.92,1)" font-size="10.3" text-anchor="middle" fill="#1a1a1a">70</text>
<text transform="translate(368.48,648.6) scale(0.92,1)" font-size="10.3" text-anchor="middle" fill="#1a1a1a">80</text>
<text transform="translate(389.42,648.6) scale(0.92,1)" font-size="10.3" text-anchor="middle" fill="#1a1a1a">90</text>
<text transform="translate(410.35,648.6) scale(0.92,1)" font-size="10.3" text-anchor="middle" fill="#1a1a1a">100</text>
<text transform="translate(431.29,648.6) scale(0.92,1)" font-size="10.3" text-anchor="middle" fill="#1a1a1a">110</text>
<text transform="translate(452.22,648.6) scale(0.92,1)" font-size="10.3" text-anchor="middle" fill="#1a1a1a">120</text>
<text transform="translate(473.16,648.6) scale(0.92,1)" font-size="10.3" text-anchor="middle" fill="#1a1a1a">130</text>
<text transform="translate(494.09,648.6) scale(0.92,1)" font-size="10.3" text-anchor="middle" fill="#1a1a1a">140</text>
<text transform="translate(515.03,648.6) scale(0.92,1)" font-size="10.3" text-anchor="middle" fill="#1a1a1a">150</text>
<text transform="translate(535.96,648.6) scale(0.92,1)" font-size="10.3" text-anchor="middle" fill="#1a1a1a">160</text>
<text transform="translate(24.9,636) rotate(-90)" font-size="12.2" text-anchor="middle" fill="#1a1a1a">mg/day</text>
<text x="57.5" y="662.8" font-size="12.3" text-anchor="start" fill="#1a1a1a" >tacrolimus</text>
<path d="M54.45,688.1 L195,688.1 L209.5,688.1 L209.5,665.1 L217.3,665.1 L217.3,660.7 L221.3,660.7 L221.3,655.9 L226.3,655.9 L226.3,665.1 L230.5,665.1 L230.5,676.4 L232.4,676.4 L232.4,672.3 L234.4,672.3 L234.4,660.5 L236,660.5 L237,662 L238.4,664.5 L239.5,667.7 L241.5,670.3 L243.6,673.6 L247.5,676 L253.5,676 L255.3,680.8 L259,680.8 L260.5,683.5 L263,683.5 L263,682.8 L268,682.8 L268,683.5 L282.5,683.5 L283,684.1 L283.1,684.1 L283.1,687.4 L285.3,687.4 L285.3,685.2 L298.5,685.2 L298.5,686.3 L312.7,686.3 L312.7,685.2 L372.9,685.2 L372.9,684.1 L385,684.1 L385,684.8 L401.4,684.8 L401.4,685.7 L408.8,685.7 L408.8,687.4 L420.8,687.4 L420.8,688 L486.5,688 L486.5,686.3 L546.6,686.3 L546.6,688.5 L54.45,688.5 Z" fill="#dedada" stroke="none"/>
<path d="M54.45,688.1 L195,688.1 L209.5,688.1 L209.5,665.1 L217.3,665.1 L217.3,660.7 L221.3,660.7 L221.3,655.9 L226.3,655.9 L226.3,665.1 L230.5,665.1 L230.5,676.4 L232.4,676.4 L232.4,672.3 L234.4,672.3 L234.4,660.5 L236,660.5 L237,662 L238.4,664.5 L239.5,667.7 L241.5,670.3 L243.6,673.6 L247.5,676 L253.5,676 L255.3,680.8 L259,680.8 L260.5,683.5 L263,683.5 L263,682.8 L268,682.8 L268,683.5 L282.5,683.5 L283,684.1 L283.1,684.1 L283.1,687.4 L285.3,687.4 L285.3,685.2 L298.5,685.2 L298.5,686.3 L312.7,686.3 L312.7,685.2 L372.9,685.2 L372.9,684.1 L385,684.1 L385,684.8 L401.4,684.8 L401.4,685.7 L408.8,685.7 L408.8,687.4 L420.8,687.4 L420.8,688 L486.5,688 L486.5,686.3 L546.6,686.3" fill="none" stroke="#1e1e1e" stroke-width="1.3" stroke-linejoin="miter"/>
<path d="M202.9,685.7 L208.1,685.7 L208.1,684.8 L210.8,684.8 L210.8,682.8 L215.4,682.8 L215.4,679.3 L222.6,679.3 L222.6,678 L229.8,678 L229.8,676.2 L238.4,676.2 L238.4,665.7 L241,665.7 L241,662.2 L247.6,662.2 L247.6,666.4 L251.5,666.4 L251.5,667.7 L255.4,667.7 L255.4,660.7 L262,660.7 L262,665.1 L276.6,665.1 L276.6,671 L282,671 L282,668.4 L291.5,668.4 L291.5,671.6 L297.4,671.6 L297.4,671 L308.3,671 L308.3,679.7 L313.8,679.7 L313.8,676 L320.8,676 L320.8,673.2 L329.1,673.2 L329.1,675.4 L377.3,675.4 L377.3,669.9 L385.4,669.9 L385.4,665.5 L392.6,665.5 L392.6,666.2 L400.7,666.2 L400.7,665.1 L412.4,665.1 L412.4,671 L419.3,671 L419.3,676 L436.1,676 L436.1,683 L446.6,683 L446.6,687 L486.5,687 L486.5,685.2 L488.7,685.2 L488.7,684.1 L502.9,684.1 L502.9,683 L546.6,683" fill="none" stroke="#3d9bb7" stroke-width="1.3"/>
<line x1="201" y1="654.5" x2="201" y2="688" stroke="#f7836a" stroke-width="1.8" stroke-dasharray="1.6 2.4"/>
<line x1="54.3" y1="653.7" x2="54.3" y2="689" stroke="#2b2b2b" stroke-width="1.1" />
<line x1="47.8" y1="688.5" x2="54.3" y2="688.5" stroke="#2b2b2b" stroke-width="1.1" />
<text transform="translate(46,692.1) scale(0.94,1)" font-size="10.2" text-anchor="end" fill="#1a1a1a">0</text>
<line x1="47.8" y1="676.9" x2="54.3" y2="676.9" stroke="#2b2b2b" stroke-width="1.1" />
<text transform="translate(46,680.5) scale(0.94,1)" font-size="10.2" text-anchor="end" fill="#1a1a1a">5</text>
<line x1="47.8" y1="665.3" x2="54.3" y2="665.3" stroke="#2b2b2b" stroke-width="1.1" />
<text transform="translate(46,668.9) scale(0.94,1)" font-size="10.2" text-anchor="end" fill="#1a1a1a">10</text>
<line x1="47.8" y1="653.7" x2="54.3" y2="653.7" stroke="#2b2b2b" stroke-width="1.1" />
<text transform="translate(46,657.3) scale(0.94,1)" font-size="10.2" text-anchor="end" fill="#1a1a1a">15</text>
<line x1="54.3" y1="688.5" x2="546.43" y2="688.5" stroke="#2b2b2b" stroke-width="1.1" />
<path d="M54.45 688.5v7.1M58.64 688.5v3.5M62.83 688.5v3.5M67.02 688.5v3.5M71.2 688.5v3.5M75.39 688.5v7.1M79.58 688.5v3.5M83.76 688.5v3.5M87.95 688.5v3.5M92.14 688.5v3.5M96.32 688.5v7.1M100.51 688.5v3.5M104.7 688.5v3.5M108.89 688.5v3.5M113.07 688.5v3.5M117.26 688.5v7.1M121.45 688.5v3.5M125.63 688.5v3.5M129.82 688.5v3.5M134.01 688.5v3.5M138.19 688.5v7.1M142.38 688.5v3.5M146.57 688.5v3.5M150.76 688.5v3.5M154.94 688.5v3.5M159.13 688.5v7.1M163.32 688.5v3.5M167.5 688.5v3.5M171.69 688.5v3.5M175.88 688.5v3.5M180.06 688.5v7.1M184.25 688.5v3.5M188.44 688.5v3.5M192.63 688.5v3.5M196.81 688.5v3.5M201 688.5v7.1M205.19 688.5v3.5M209.37 688.5v3.5M213.56 688.5v3.5M217.75 688.5v3.5M221.94 688.5v7.1M226.12 688.5v3.5M230.31 688.5v3.5M234.5 688.5v3.5M238.68 688.5v3.5M242.87 688.5v7.1M247.06 688.5v3.5M251.24 688.5v3.5M255.43 688.5v3.5M259.62 688.5v3.5M263.81 688.5v7.1M267.99 688.5v3.5M272.18 688.5v3.5M276.37 688.5v3.5M280.55 688.5v3.5M284.74 688.5v7.1M288.93 688.5v3.5M293.11 688.5v3.5M297.3 688.5v3.5M301.49 688.5v3.5M305.68 688.5v7.1M309.86 688.5v3.5M314.05 688.5v3.5M318.24 688.5v3.5M322.42 688.5v3.5M326.61 688.5v7.1M330.8 688.5v3.5M334.98 688.5v3.5M339.17 688.5v3.5M343.36 688.5v3.5M347.55 688.5v7.1M351.73 688.5v3.5M355.92 688.5v3.5M360.11 688.5v3.5M364.29 688.5v3.5M368.48 688.5v7.1M372.67 688.5v3.5M376.85 688.5v3.5M381.04 688.5v3.5M385.23 688.5v3.5M389.42 688.5v7.1M393.6 688.5v3.5M397.79 688.5v3.5M401.98 688.5v3.5M406.16 688.5v3.5M410.35 688.5v7.1M414.54 688.5v3.5M418.72 688.5v3.5M422.91 688.5v3.5M427.1 688.5v3.5M431.29 688.5v7.1M435.47 688.5v3.5M439.66 688.5v3.5M443.85 688.5v3.5M448.03 688.5v3.5M452.22 688.5v7.1M456.41 688.5v3.5M460.59 688.5v3.5M464.78 688.5v3.5M468.97 688.5v3.5M473.16 688.5v7.1M477.34 688.5v3.5M481.53 688.5v3.5M485.72 688.5v3.5M489.9 688.5v3.5M494.09 688.5v7.1M498.28 688.5v3.5M502.46 688.5v3.5M506.65 688.5v3.5M510.84 688.5v3.5M515.03 688.5v7.1M519.21 688.5v3.5M523.4 688.5v3.5M527.59 688.5v3.5M531.77 688.5v3.5M535.96 688.5v7.1M540.15 688.5v3.5M544.33 688.5v3.5" stroke="#2b2b2b" stroke-width="1" fill="none"/>
<text transform="translate(54.45,707) scale(0.92,1)" font-size="10.3" text-anchor="middle" fill="#1a1a1a">-70</text>
<text transform="translate(75.39,707) scale(0.92,1)" font-size="10.3" text-anchor="middle" fill="#1a1a1a">-60</text>
<text transform="translate(96.32,707) scale(0.92,1)" font-size="10.3" text-anchor="middle" fill="#1a1a1a">-50</text>
<text transform="translate(117.26,707) scale(0.92,1)" font-size="10.3" text-anchor="middle" fill="#1a1a1a">-40</text>
<text transform="translate(138.19,707) scale(0.92,1)" font-size="10.3" text-anchor="middle" fill="#1a1a1a">-30</text>
<text transform="translate(159.13,707) scale(0.92,1)" font-size="10.3" text-anchor="middle" fill="#1a1a1a">-20</text>
<text transform="translate(180.06,707) scale(0.92,1)" font-size="10.3" text-anchor="middle" fill="#1a1a1a">-10</text>
<text transform="translate(201,707) scale(0.92,1)" font-size="10.3" text-anchor="middle" fill="#1a1a1a">0</text>
<text transform="translate(221.94,707) scale(0.92,1)" font-size="10.3" text-anchor="middle" fill="#1a1a1a">10</text>
<text transform="translate(242.87,707) scale(0.92,1)" font-size="10.3" text-anchor="middle" fill="#1a1a1a">20</text>
<text transform="translate(263.81,707) scale(0.92,1)" font-size="10.3" text-anchor="middle" fill="#1a1a1a">30</text>
<text transform="translate(284.74,707) scale(0.92,1)" font-size="10.3" text-anchor="middle" fill="#1a1a1a">40</text>
<text transform="translate(305.68,707) scale(0.92,1)" font-size="10.3" text-anchor="middle" fill="#1a1a1a">50</text>
<text transform="translate(326.61,707) scale(0.92,1)" font-size="10.3" text-anchor="middle" fill="#1a1a1a">60</text>
<text transform="translate(347.55,707) scale(0.92,1)" font-size="10.3" text-anchor="middle" fill="#1a1a1a">70</text>
<text transform="translate(368.48,707) scale(0.92,1)" font-size="10.3" text-anchor="middle" fill="#1a1a1a">80</text>
<text transform="translate(389.42,707) scale(0.92,1)" font-size="10.3" text-anchor="middle" fill="#1a1a1a">90</text>
<text transform="translate(410.35,707) scale(0.92,1)" font-size="10.3" text-anchor="middle" fill="#1a1a1a">100</text>
<text transform="translate(431.29,707) scale(0.92,1)" font-size="10.3" text-anchor="middle" fill="#1a1a1a">110</text>
<text transform="translate(452.22,707) scale(0.92,1)" font-size="10.3" text-anchor="middle" fill="#1a1a1a">120</text>
<text transform="translate(473.16,707) scale(0.92,1)" font-size="10.3" text-anchor="middle" fill="#1a1a1a">130</text>
<text transform="translate(494.09,707) scale(0.92,1)" font-size="10.3" text-anchor="middle" fill="#1a1a1a">140</text>
<text transform="translate(515.03,707) scale(0.92,1)" font-size="10.3" text-anchor="middle" fill="#1a1a1a">150</text>
<text transform="translate(535.96,707) scale(0.92,1)" font-size="10.3" text-anchor="middle" fill="#1a1a1a">160</text>
<line x1="547.5" y1="653.7" x2="547.5" y2="688.5" stroke="#2b2b2b" stroke-width="1.1" />
<line x1="547.5" y1="688" x2="552.5" y2="688" stroke="#2b2b2b" stroke-width="1.1" />
<text x="555.5" y="691.5" font-size="10" text-anchor="start" fill="#3d9bb7" >0</text>
<line x1="547.5" y1="674.35" x2="552.5" y2="674.35" stroke="#2b2b2b" stroke-width="1.1" />
<text x="555.5" y="677.85" font-size="10" text-anchor="start" fill="#3d9bb7" >10</text>
<line x1="547.5" y1="660.7" x2="552.5" y2="660.7" stroke="#2b2b2b" stroke-width="1.1" />
<text x="555.5" y="664.2" font-size="10" text-anchor="start" fill="#3d9bb7" >20</text>
<text x="57.2" y="721.9" font-size="12.3" text-anchor="start" fill="#1a1a1a" >everolimus</text>
<path d="M408.9,746.1 L408.9,740.9 L410.5,740.9 L410.5,735 L419.2,735 L419.2,742 L427.6,742 L427.6,743.2 L429.2,743.2 L429.2,743.9 L446.7,743.9 L446.7,742 L485.7,742 L485.7,728 L488,728 L488,723.4 L494.6,723.4 L494.6,735 L546,735 L546,738.5 L546.6,738.5 L546.6,746.1 L408.9,746.1 Z" fill="#dedada" stroke="none"/>
<path d="M408.9,746.1 L408.9,740.9 L410.5,740.9 L410.5,735 L419.2,735 L419.2,742 L427.6,742 L427.6,743.2 L429.2,743.2 L429.2,743.9 L446.7,743.9 L446.7,742 L485.7,742 L485.7,728 L488,728 L488,723.4 L494.6,723.4 L494.6,735 L546,735 L546,738.5 L546.6,738.5" fill="none" stroke="#1e1e1e" stroke-width="1.3" stroke-linejoin="miter"/>
<path d="M412.8,728 L419.2,728 L419.2,715.9 L425.2,715.9 L425.2,720.6 L436.2,720.6 L436.2,734.6 L446.7,734.6 L446.7,741.6 L452.6,741.6 L452.6,740.4 L486.4,740.4 L486.4,738 L490,738 L490,737.4 L504,737.4 L504,735 L546.6,735" fill="none" stroke="#3d9bb7" stroke-width="1.3"/>
<line x1="201" y1="711.8" x2="201" y2="746" stroke="#f7836a" stroke-width="1.8" stroke-dasharray="1.6 2.4"/>
<line x1="54.3" y1="711.7" x2="54.3" y2="746.6" stroke="#2b2b2b" stroke-width="1.1" />
<line x1="47.8" y1="746.1" x2="54.3" y2="746.1" stroke="#2b2b2b" stroke-width="1.1" />
<text transform="translate(46,749.7) scale(0.94,1)" font-size="10.2" text-anchor="end" fill="#1a1a1a">0.0</text>
<line x1="47.8" y1="734.63" x2="54.3" y2="734.63" stroke="#2b2b2b" stroke-width="1.1" />
<text transform="translate(46,738.23) scale(0.94,1)" font-size="10.2" text-anchor="end" fill="#1a1a1a">0.5</text>
<line x1="47.8" y1="723.17" x2="54.3" y2="723.17" stroke="#2b2b2b" stroke-width="1.1" />
<text transform="translate(46,726.77) scale(0.94,1)" font-size="10.2" text-anchor="end" fill="#1a1a1a">1.0</text>
<line x1="47.8" y1="711.7" x2="54.3" y2="711.7" stroke="#2b2b2b" stroke-width="1.1" />
<text transform="translate(46,715.3) scale(0.94,1)" font-size="10.2" text-anchor="end" fill="#1a1a1a">1.5</text>
<line x1="54.3" y1="746.1" x2="546.43" y2="746.1" stroke="#2b2b2b" stroke-width="1.1" />
<path d="M54.45 746.1v7.1M58.64 746.1v3.5M62.83 746.1v3.5M67.02 746.1v3.5M71.2 746.1v3.5M75.39 746.1v7.1M79.58 746.1v3.5M83.76 746.1v3.5M87.95 746.1v3.5M92.14 746.1v3.5M96.32 746.1v7.1M100.51 746.1v3.5M104.7 746.1v3.5M108.89 746.1v3.5M113.07 746.1v3.5M117.26 746.1v7.1M121.45 746.1v3.5M125.63 746.1v3.5M129.82 746.1v3.5M134.01 746.1v3.5M138.19 746.1v7.1M142.38 746.1v3.5M146.57 746.1v3.5M150.76 746.1v3.5M154.94 746.1v3.5M159.13 746.1v7.1M163.32 746.1v3.5M167.5 746.1v3.5M171.69 746.1v3.5M175.88 746.1v3.5M180.06 746.1v7.1M184.25 746.1v3.5M188.44 746.1v3.5M192.63 746.1v3.5M196.81 746.1v3.5M201 746.1v7.1M205.19 746.1v3.5M209.37 746.1v3.5M213.56 746.1v3.5M217.75 746.1v3.5M221.94 746.1v7.1M226.12 746.1v3.5M230.31 746.1v3.5M234.5 746.1v3.5M238.68 746.1v3.5M242.87 746.1v7.1M247.06 746.1v3.5M251.24 746.1v3.5M255.43 746.1v3.5M259.62 746.1v3.5M263.81 746.1v7.1M267.99 746.1v3.5M272.18 746.1v3.5M276.37 746.1v3.5M280.55 746.1v3.5M284.74 746.1v7.1M288.93 746.1v3.5M293.11 746.1v3.5M297.3 746.1v3.5M301.49 746.1v3.5M305.68 746.1v7.1M309.86 746.1v3.5M314.05 746.1v3.5M318.24 746.1v3.5M322.42 746.1v3.5M326.61 746.1v7.1M330.8 746.1v3.5M334.98 746.1v3.5M339.17 746.1v3.5M343.36 746.1v3.5M347.55 746.1v7.1M351.73 746.1v3.5M355.92 746.1v3.5M360.11 746.1v3.5M364.29 746.1v3.5M368.48 746.1v7.1M372.67 746.1v3.5M376.85 746.1v3.5M381.04 746.1v3.5M385.23 746.1v3.5M389.42 746.1v7.1M393.6 746.1v3.5M397.79 746.1v3.5M401.98 746.1v3.5M406.16 746.1v3.5M410.35 746.1v7.1M414.54 746.1v3.5M418.72 746.1v3.5M422.91 746.1v3.5M427.1 746.1v3.5M431.29 746.1v7.1M435.47 746.1v3.5M439.66 746.1v3.5M443.85 746.1v3.5M448.03 746.1v3.5M452.22 746.1v7.1M456.41 746.1v3.5M460.59 746.1v3.5M464.78 746.1v3.5M468.97 746.1v3.5M473.16 746.1v7.1M477.34 746.1v3.5M481.53 746.1v3.5M485.72 746.1v3.5M489.9 746.1v3.5M494.09 746.1v7.1M498.28 746.1v3.5M502.46 746.1v3.5M506.65 746.1v3.5M510.84 746.1v3.5M515.03 746.1v7.1M519.21 746.1v3.5M523.4 746.1v3.5M527.59 746.1v3.5M531.77 746.1v3.5M535.96 746.1v7.1M540.15 746.1v3.5M544.33 746.1v3.5" stroke="#2b2b2b" stroke-width="1" fill="none"/>
<text transform="translate(54.45,765.4) scale(0.92,1)" font-size="10.3" text-anchor="middle" fill="#1a1a1a">-70</text>
<text transform="translate(75.39,765.4) scale(0.92,1)" font-size="10.3" text-anchor="middle" fill="#1a1a1a">-60</text>
<text transform="translate(96.32,765.4) scale(0.92,1)" font-size="10.3" text-anchor="middle" fill="#1a1a1a">-50</text>
<text transform="translate(117.26,765.4) scale(0.92,1)" font-size="10.3" text-anchor="middle" fill="#1a1a1a">-40</text>
<text transform="translate(138.19,765.4) scale(0.92,1)" font-size="10.3" text-anchor="middle" fill="#1a1a1a">-30</text>
<text transform="translate(159.13,765.4) scale(0.92,1)" font-size="10.3" text-anchor="middle" fill="#1a1a1a">-20</text>
<text transform="translate(180.06,765.4) scale(0.92,1)" font-size="10.3" text-anchor="middle" fill="#1a1a1a">-10</text>
<text transform="translate(201,765.4) scale(0.92,1)" font-size="10.3" text-anchor="middle" fill="#1a1a1a">0</text>
<text transform="translate(221.94,765.4) scale(0.92,1)" font-size="10.3" text-anchor="middle" fill="#1a1a1a">10</text>
<text transform="translate(242.87,765.4) scale(0.92,1)" font-size="10.3" text-anchor="middle" fill="#1a1a1a">20</text>
<text transform="translate(263.81,765.4) scale(0.92,1)" font-size="10.3" text-anchor="middle" fill="#1a1a1a">30</text>
<text transform="translate(284.74,765.4) scale(0.92,1)" font-size="10.3" text-anchor="middle" fill="#1a1a1a">40</text>
<text transform="translate(305.68,765.4) scale(0.92,1)" font-size="10.3" text-anchor="middle" fill="#1a1a1a">50</text>
<text transform="translate(326.61,765.4) scale(0.92,1)" font-size="10.3" text-anchor="middle" fill="#1a1a1a">60</text>
<text transform="translate(347.55,765.4) scale(0.92,1)" font-size="10.3" text-anchor="middle" fill="#1a1a1a">70</text>
<text transform="translate(368.48,765.4) scale(0.92,1)" font-size="10.3" text-anchor="middle" fill="#1a1a1a">80</text>
<text transform="translate(389.42,765.4) scale(0.92,1)" font-size="10.3" text-anchor="middle" fill="#1a1a1a">90</text>
<text transform="translate(410.35,765.4) scale(0.92,1)" font-size="10.3" text-anchor="middle" fill="#1a1a1a">100</text>
<text transform="translate(431.29,765.4) scale(0.92,1)" font-size="10.3" text-anchor="middle" fill="#1a1a1a">110</text>
<text transform="translate(452.22,765.4) scale(0.92,1)" font-size="10.3" text-anchor="middle" fill="#1a1a1a">120</text>
<text transform="translate(473.16,765.4) scale(0.92,1)" font-size="10.3" text-anchor="middle" fill="#1a1a1a">130</text>
<text transform="translate(494.09,765.4) scale(0.92,1)" font-size="10.3" text-anchor="middle" fill="#1a1a1a">140</text>
<text transform="translate(515.03,765.4) scale(0.92,1)" font-size="10.3" text-anchor="middle" fill="#1a1a1a">150</text>
<text transform="translate(535.96,765.4) scale(0.92,1)" font-size="10.3" text-anchor="middle" fill="#1a1a1a">160</text>
<line x1="547.5" y1="711.2" x2="547.5" y2="746.1" stroke="#2b2b2b" stroke-width="1.1" />
<line x1="547.5" y1="746" x2="552.5" y2="746" stroke="#2b2b2b" stroke-width="1" />
<line x1="547.5" y1="742.52" x2="550.5" y2="742.52" stroke="#2b2b2b" stroke-width="1" />
<line x1="547.5" y1="739.04" x2="550.5" y2="739.04" stroke="#2b2b2b" stroke-width="1" />
<line x1="547.5" y1="735.56" x2="550.5" y2="735.56" stroke="#2b2b2b" stroke-width="1" />
<line x1="547.5" y1="732.08" x2="550.5" y2="732.08" stroke="#2b2b2b" stroke-width="1" />
<line x1="547.5" y1="728.6" x2="552.5" y2="728.6" stroke="#2b2b2b" stroke-width="1" />
<line x1="547.5" y1="725.12" x2="550.5" y2="725.12" stroke="#2b2b2b" stroke-width="1" />
<line x1="547.5" y1="721.64" x2="550.5" y2="721.64" stroke="#2b2b2b" stroke-width="1" />
<line x1="547.5" y1="718.16" x2="550.5" y2="718.16" stroke="#2b2b2b" stroke-width="1" />
<line x1="547.5" y1="714.68" x2="550.5" y2="714.68" stroke="#2b2b2b" stroke-width="1" />
<line x1="547.5" y1="711.2" x2="552.5" y2="711.2" stroke="#2b2b2b" stroke-width="1" />
<text x="555.5" y="749.5" font-size="10" text-anchor="start" fill="#3d9bb7" >0</text>
<text x="555.5" y="732.1" font-size="10" text-anchor="start" fill="#3d9bb7" >5</text>
<text x="555.5" y="714.7" font-size="10" text-anchor="start" fill="#3d9bb7" >10</text>
<text x="300.7" y="782.4" font-size="12.8" text-anchor="middle" fill="#1a1a1a" >days pre and post lung transplantation</text>
<text transform="translate(589.6,701.7) rotate(90)" font-size="10" text-anchor="middle" fill="#3d9bb7"><tspan x="0" y="0">blood</tspan><tspan x="0" y="12.3">concentration</tspan></text>
</svg></body></html>
